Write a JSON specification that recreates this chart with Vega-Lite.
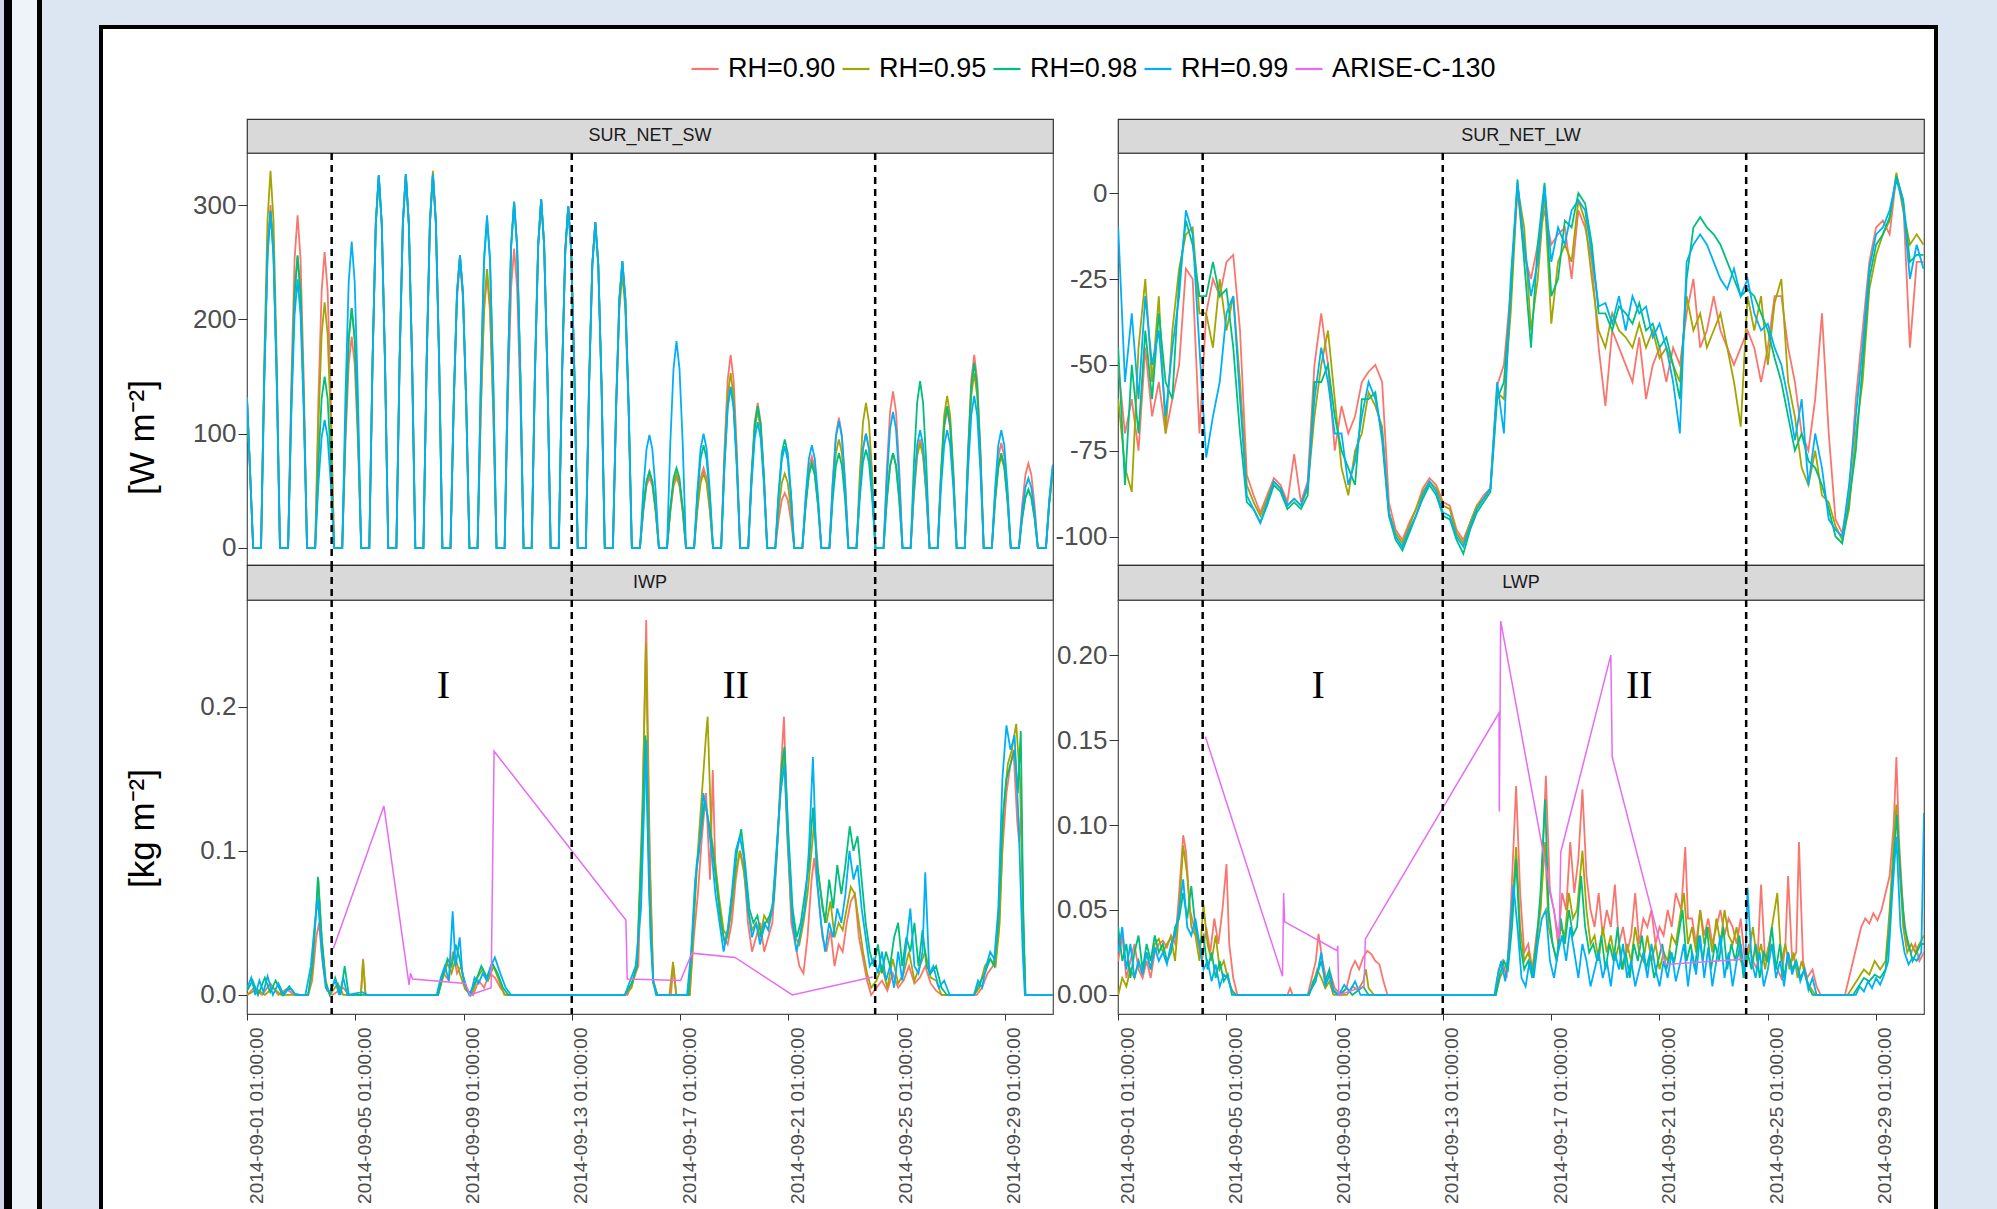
{
"$schema":"https://vega.github.io/schema/vega-lite/v6.json",
"padding":0,
"background":"#ffffff",
"config":{
 "view":{"stroke":null},
 "font":"Liberation Sans",
 "concat":{"spacing":0},
 "axis":{"labelFont":"Liberation Sans","labelColor":"#4d4d4d","tickColor":"#333333","domain":false,"grid":false,"titleFont":"Liberation Sans","titleColor":"#000000","titleFontWeight":"normal","labelFlush":false,"labelOverlap":false,"labelLimit":400},
 "axisY":{"labelFontSize":26,"tickSize":9,"labelPadding":2},
 "axisX":{"labelFontSize":19,"tickSize":6,"labelPadding":7},
 "legend":{"orient":"none","legendX":690,"legendY":54,"direction":"horizontal","symbolType":"stroke","symbolSize":729,"symbolStrokeWidth":2.2,"labelFontSize":27,"labelFont":"Liberation Sans","labelColor":"#000000","labelOffset":8,"columnPadding":2,"padding":0,"labelLimit":400}
},
"datasets":{
"ev":[{"d":3.17},{"d":12.04},{"d":23.25}],
"labI":[{"d":7.3,"v":0.214,"t":"I"},{"d":18.1,"v":0.214,"t":"II"}],
"labL":[{"d":7.44,"v":0.182,"t":"I"},{"d":19.3,"v":0.182,"t":"II"}],
"sw1":[{"d":0.042,"v":130},{"d":0.14,"v":75},{"d":0.27,"v":0},{"d":0.56,"v":0},{"d":0.68,"v":150},{"d":0.8,"v":261},{"d":0.91,"v":300},{"d":1.02,"v":261},{"d":1.14,"v":150},{"d":1.26,"v":0},{"d":1.56,"v":0},{"d":1.68,"v":146},{"d":1.8,"v":253},{"d":1.91,"v":291},{"d":2.02,"v":253},{"d":2.14,"v":146},{"d":2.26,"v":0},{"d":2.56,"v":0},{"d":2.68,"v":130},{"d":2.8,"v":225},{"d":2.91,"v":259},{"d":3.02,"v":225},{"d":3.14,"v":130},{"d":3.26,"v":0},{"d":3.56,"v":0},{"d":3.68,"v":93},{"d":3.8,"v":161},{"d":3.91,"v":185},{"d":4.02,"v":161},{"d":4.14,"v":93},{"d":4.26,"v":0},{"d":4.56,"v":0},{"d":4.68,"v":163},{"d":4.8,"v":283},{"d":4.91,"v":325},{"d":5.02,"v":283},{"d":5.14,"v":163},{"d":5.26,"v":0},{"d":5.56,"v":0},{"d":5.68,"v":164},{"d":5.8,"v":284},{"d":5.91,"v":327},{"d":6.02,"v":284},{"d":6.14,"v":164},{"d":6.26,"v":0},{"d":6.56,"v":0},{"d":6.68,"v":164},{"d":6.8,"v":284},{"d":6.91,"v":327},{"d":7.02,"v":284},{"d":7.14,"v":164},{"d":7.26,"v":0},{"d":7.56,"v":0},{"d":7.68,"v":125},{"d":7.8,"v":218},{"d":7.91,"v":250},{"d":8.02,"v":218},{"d":8.14,"v":125},{"d":8.26,"v":0},{"d":8.56,"v":0},{"d":8.68,"v":119},{"d":8.8,"v":207},{"d":8.91,"v":238},{"d":9.02,"v":207},{"d":9.14,"v":119},{"d":9.26,"v":0},{"d":9.56,"v":0},{"d":9.68,"v":131},{"d":9.8,"v":228},{"d":9.91,"v":262},{"d":10.02,"v":228},{"d":10.14,"v":131},{"d":10.26,"v":0},{"d":10.56,"v":0},{"d":10.68,"v":153},{"d":10.8,"v":265},{"d":10.91,"v":305},{"d":11.02,"v":265},{"d":11.14,"v":153},{"d":11.26,"v":0},{"d":11.56,"v":0},{"d":11.68,"v":150},{"d":11.8,"v":260},{"d":11.91,"v":299},{"d":12.02,"v":260},{"d":12.14,"v":150},{"d":12.26,"v":0},{"d":12.56,"v":0},{"d":12.68,"v":143},{"d":12.8,"v":248},{"d":12.91,"v":285},{"d":13.02,"v":248},{"d":13.14,"v":143},{"d":13.26,"v":0},{"d":13.56,"v":0},{"d":13.68,"v":125},{"d":13.8,"v":218},{"d":13.91,"v":250},{"d":14.02,"v":218},{"d":14.14,"v":125},{"d":14.26,"v":0},{"d":14.56,"v":0},{"d":14.68,"v":31},{"d":14.8,"v":54},{"d":14.91,"v":62},{"d":15.02,"v":54},{"d":15.14,"v":31},{"d":15.26,"v":0},{"d":15.56,"v":0},{"d":15.68,"v":31},{"d":15.8,"v":54},{"d":15.91,"v":62},{"d":16.02,"v":54},{"d":16.14,"v":31},{"d":16.26,"v":0},{"d":16.56,"v":0},{"d":16.68,"v":35},{"d":16.8,"v":61},{"d":16.91,"v":70},{"d":17.02,"v":61},{"d":17.14,"v":35},{"d":17.26,"v":0},{"d":17.56,"v":0},{"d":17.68,"v":85},{"d":17.8,"v":147},{"d":17.91,"v":169},{"d":18.02,"v":147},{"d":18.14,"v":85},{"d":18.26,"v":0},{"d":18.56,"v":0},{"d":18.68,"v":64},{"d":18.8,"v":110},{"d":18.91,"v":127},{"d":19.02,"v":110},{"d":19.14,"v":64},{"d":19.26,"v":0},{"d":19.56,"v":0},{"d":19.68,"v":24},{"d":19.8,"v":42},{"d":19.91,"v":48},{"d":20.02,"v":42},{"d":20.14,"v":24},{"d":20.26,"v":0},{"d":20.56,"v":0},{"d":20.68,"v":40},{"d":20.8,"v":70},{"d":20.91,"v":80},{"d":21.02,"v":70},{"d":21.14,"v":40},{"d":21.26,"v":0},{"d":21.56,"v":0},{"d":21.68,"v":57},{"d":21.8,"v":99},{"d":21.91,"v":114},{"d":22.02,"v":99},{"d":22.14,"v":57},{"d":22.26,"v":0},{"d":22.56,"v":0},{"d":22.68,"v":50},{"d":22.8,"v":87},{"d":22.91,"v":100},{"d":23.02,"v":87},{"d":23.14,"v":50},{"d":23.26,"v":0},{"d":23.56,"v":0},{"d":23.68,"v":69},{"d":23.8,"v":119},{"d":23.91,"v":137},{"d":24.02,"v":119},{"d":24.14,"v":69},{"d":24.26,"v":0},{"d":24.56,"v":0},{"d":24.68,"v":48},{"d":24.8,"v":83},{"d":24.91,"v":95},{"d":25.02,"v":83},{"d":25.14,"v":48},{"d":25.26,"v":0},{"d":25.56,"v":0},{"d":25.68,"v":61},{"d":25.8,"v":105},{"d":25.91,"v":121},{"d":26.02,"v":105},{"d":26.14,"v":61},{"d":26.26,"v":0},{"d":26.56,"v":0},{"d":26.68,"v":85},{"d":26.8,"v":147},{"d":26.91,"v":169},{"d":27.02,"v":147},{"d":27.14,"v":85},{"d":27.26,"v":0},{"d":27.56,"v":0},{"d":27.68,"v":46},{"d":27.8,"v":80},{"d":27.91,"v":92},{"d":28.02,"v":80},{"d":28.14,"v":46},{"d":28.26,"v":0},{"d":28.56,"v":0},{"d":28.68,"v":37},{"d":28.8,"v":64},{"d":28.91,"v":74},{"d":29.02,"v":64},{"d":29.14,"v":37},{"d":29.26,"v":0},{"d":29.56,"v":0},{"d":29.68,"v":40},{"d":29.8,"v":68},{"d":29.82,"v":70}],
"sw2":[{"d":0.042,"v":130},{"d":0.14,"v":75},{"d":0.27,"v":0},{"d":0.56,"v":0},{"d":0.68,"v":165},{"d":0.8,"v":287},{"d":0.91,"v":330},{"d":1.02,"v":287},{"d":1.14,"v":165},{"d":1.26,"v":0},{"d":1.56,"v":0},{"d":1.68,"v":128},{"d":1.8,"v":222},{"d":1.91,"v":255},{"d":2.02,"v":222},{"d":2.14,"v":128},{"d":2.26,"v":0},{"d":2.56,"v":0},{"d":2.68,"v":108},{"d":2.8,"v":187},{"d":2.91,"v":215},{"d":3.02,"v":187},{"d":3.14,"v":108},{"d":3.26,"v":0},{"d":3.56,"v":0},{"d":3.68,"v":105},{"d":3.8,"v":183},{"d":3.91,"v":210},{"d":4.02,"v":183},{"d":4.14,"v":105},{"d":4.26,"v":0},{"d":4.56,"v":0},{"d":4.68,"v":163},{"d":4.8,"v":284},{"d":4.91,"v":326},{"d":5.02,"v":284},{"d":5.14,"v":163},{"d":5.26,"v":0},{"d":5.56,"v":0},{"d":5.68,"v":164},{"d":5.8,"v":284},{"d":5.91,"v":327},{"d":6.02,"v":284},{"d":6.14,"v":164},{"d":6.26,"v":0},{"d":6.56,"v":0},{"d":6.68,"v":165},{"d":6.8,"v":287},{"d":6.91,"v":330},{"d":7.02,"v":287},{"d":7.14,"v":165},{"d":7.26,"v":0},{"d":7.56,"v":0},{"d":7.68,"v":128},{"d":7.8,"v":223},{"d":7.91,"v":256},{"d":8.02,"v":223},{"d":8.14,"v":128},{"d":8.26,"v":0},{"d":8.56,"v":0},{"d":8.68,"v":122},{"d":8.8,"v":212},{"d":8.91,"v":244},{"d":9.02,"v":212},{"d":9.14,"v":122},{"d":9.26,"v":0},{"d":9.56,"v":0},{"d":9.68,"v":152},{"d":9.8,"v":264},{"d":9.91,"v":303},{"d":10.02,"v":264},{"d":10.14,"v":152},{"d":10.26,"v":0},{"d":10.56,"v":0},{"d":10.68,"v":153},{"d":10.8,"v":265},{"d":10.91,"v":305},{"d":11.02,"v":265},{"d":11.14,"v":153},{"d":11.26,"v":0},{"d":11.56,"v":0},{"d":11.68,"v":150},{"d":11.8,"v":260},{"d":11.91,"v":299},{"d":12.02,"v":260},{"d":12.14,"v":150},{"d":12.26,"v":0},{"d":12.56,"v":0},{"d":12.68,"v":143},{"d":12.8,"v":248},{"d":12.91,"v":285},{"d":13.02,"v":248},{"d":13.14,"v":143},{"d":13.26,"v":0},{"d":13.56,"v":0},{"d":13.68,"v":120},{"d":13.8,"v":209},{"d":13.91,"v":240},{"d":14.02,"v":209},{"d":14.14,"v":120},{"d":14.26,"v":0},{"d":14.56,"v":0},{"d":14.68,"v":34},{"d":14.8,"v":58},{"d":14.91,"v":67},{"d":15.02,"v":58},{"d":15.14,"v":34},{"d":15.26,"v":0},{"d":15.56,"v":0},{"d":15.68,"v":33},{"d":15.8,"v":57},{"d":15.91,"v":65},{"d":16.02,"v":57},{"d":16.14,"v":33},{"d":16.26,"v":0},{"d":16.56,"v":0},{"d":16.68,"v":33},{"d":16.8,"v":57},{"d":16.91,"v":65},{"d":17.02,"v":57},{"d":17.14,"v":33},{"d":17.26,"v":0},{"d":17.56,"v":0},{"d":17.68,"v":77},{"d":17.8,"v":133},{"d":17.91,"v":153},{"d":18.02,"v":133},{"d":18.14,"v":77},{"d":18.26,"v":0},{"d":18.56,"v":0},{"d":18.68,"v":60},{"d":18.8,"v":104},{"d":18.91,"v":120},{"d":19.02,"v":104},{"d":19.14,"v":60},{"d":19.26,"v":0},{"d":19.56,"v":0},{"d":19.68,"v":33},{"d":19.8,"v":57},{"d":19.91,"v":65},{"d":20.02,"v":57},{"d":20.14,"v":33},{"d":20.26,"v":0},{"d":20.56,"v":0},{"d":20.68,"v":37},{"d":20.8,"v":64},{"d":20.91,"v":74},{"d":21.02,"v":64},{"d":21.14,"v":37},{"d":21.26,"v":0},{"d":21.56,"v":0},{"d":21.68,"v":48},{"d":21.8,"v":83},{"d":21.91,"v":95},{"d":22.02,"v":83},{"d":22.14,"v":48},{"d":22.26,"v":0},{"d":22.56,"v":0},{"d":22.68,"v":64},{"d":22.8,"v":110},{"d":22.91,"v":127},{"d":23.02,"v":110},{"d":23.14,"v":64},{"d":23.26,"v":0},{"d":23.56,"v":0},{"d":23.68,"v":42},{"d":23.8,"v":72},{"d":23.91,"v":83},{"d":24.02,"v":72},{"d":24.14,"v":42},{"d":24.26,"v":0},{"d":24.56,"v":0},{"d":24.68,"v":46},{"d":24.8,"v":80},{"d":24.91,"v":92},{"d":25.02,"v":80},{"d":25.14,"v":46},{"d":25.26,"v":0},{"d":25.56,"v":0},{"d":25.68,"v":67},{"d":25.8,"v":116},{"d":25.91,"v":133},{"d":26.02,"v":116},{"d":26.14,"v":67},{"d":26.26,"v":0},{"d":26.56,"v":0},{"d":26.68,"v":77},{"d":26.8,"v":133},{"d":26.91,"v":153},{"d":27.02,"v":133},{"d":27.14,"v":77},{"d":27.26,"v":0},{"d":27.56,"v":0},{"d":27.68,"v":40},{"d":27.8,"v":70},{"d":27.91,"v":80},{"d":28.02,"v":70},{"d":28.14,"v":40},{"d":28.26,"v":0},{"d":28.56,"v":0},{"d":28.68,"v":26},{"d":28.8,"v":44},{"d":28.91,"v":51},{"d":29.02,"v":44},{"d":29.14,"v":26},{"d":29.26,"v":0},{"d":29.56,"v":0},{"d":29.68,"v":38},{"d":29.8,"v":64},{"d":29.82,"v":66}],
"sw3":[{"d":0.042,"v":130},{"d":0.14,"v":75},{"d":0.27,"v":0},{"d":0.56,"v":0},{"d":0.68,"v":148},{"d":0.8,"v":257},{"d":0.91,"v":295},{"d":1.02,"v":257},{"d":1.14,"v":148},{"d":1.26,"v":0},{"d":1.56,"v":0},{"d":1.68,"v":128},{"d":1.8,"v":223},{"d":1.91,"v":256},{"d":2.02,"v":223},{"d":2.14,"v":128},{"d":2.26,"v":0},{"d":2.56,"v":0},{"d":2.68,"v":75},{"d":2.8,"v":131},{"d":2.91,"v":150},{"d":3.02,"v":131},{"d":3.14,"v":75},{"d":3.26,"v":0},{"d":3.56,"v":0},{"d":3.68,"v":105},{"d":3.8,"v":183},{"d":3.91,"v":210},{"d":4.02,"v":183},{"d":4.14,"v":105},{"d":4.26,"v":0},{"d":4.56,"v":0},{"d":4.68,"v":163},{"d":4.8,"v":284},{"d":4.91,"v":326},{"d":5.02,"v":284},{"d":5.14,"v":163},{"d":5.26,"v":0},{"d":5.56,"v":0},{"d":5.68,"v":164},{"d":5.8,"v":284},{"d":5.91,"v":327},{"d":6.02,"v":284},{"d":6.14,"v":164},{"d":6.26,"v":0},{"d":6.56,"v":0},{"d":6.68,"v":164},{"d":6.8,"v":284},{"d":6.91,"v":327},{"d":7.02,"v":284},{"d":7.14,"v":164},{"d":7.26,"v":0},{"d":7.56,"v":0},{"d":7.68,"v":128},{"d":7.8,"v":223},{"d":7.91,"v":256},{"d":8.02,"v":223},{"d":8.14,"v":128},{"d":8.26,"v":0},{"d":8.56,"v":0},{"d":8.68,"v":144},{"d":8.8,"v":251},{"d":8.91,"v":288},{"d":9.02,"v":251},{"d":9.14,"v":144},{"d":9.26,"v":0},{"d":9.56,"v":0},{"d":9.68,"v":152},{"d":9.8,"v":264},{"d":9.91,"v":303},{"d":10.02,"v":264},{"d":10.14,"v":152},{"d":10.26,"v":0},{"d":10.56,"v":0},{"d":10.68,"v":153},{"d":10.8,"v":265},{"d":10.91,"v":305},{"d":11.02,"v":265},{"d":11.14,"v":153},{"d":11.26,"v":0},{"d":11.56,"v":0},{"d":11.68,"v":150},{"d":11.8,"v":260},{"d":11.91,"v":299},{"d":12.02,"v":260},{"d":12.14,"v":150},{"d":12.26,"v":0},{"d":12.56,"v":0},{"d":12.68,"v":143},{"d":12.8,"v":248},{"d":12.91,"v":285},{"d":13.02,"v":248},{"d":13.14,"v":143},{"d":13.26,"v":0},{"d":13.56,"v":0},{"d":13.68,"v":126},{"d":13.8,"v":218},{"d":13.91,"v":251},{"d":14.02,"v":218},{"d":14.14,"v":126},{"d":14.26,"v":0},{"d":14.56,"v":0},{"d":14.68,"v":34},{"d":14.8,"v":58},{"d":14.91,"v":67},{"d":15.02,"v":58},{"d":15.14,"v":34},{"d":15.26,"v":0},{"d":15.56,"v":0},{"d":15.68,"v":35},{"d":15.8,"v":61},{"d":15.91,"v":70},{"d":16.02,"v":61},{"d":16.14,"v":35},{"d":16.26,"v":0},{"d":16.56,"v":0},{"d":16.68,"v":45},{"d":16.8,"v":78},{"d":16.91,"v":90},{"d":17.02,"v":78},{"d":17.14,"v":45},{"d":17.26,"v":0},{"d":17.56,"v":0},{"d":17.68,"v":71},{"d":17.8,"v":123},{"d":17.91,"v":141},{"d":18.02,"v":123},{"d":18.14,"v":71},{"d":18.26,"v":0},{"d":18.56,"v":0},{"d":18.68,"v":62},{"d":18.8,"v":108},{"d":18.91,"v":124},{"d":19.02,"v":108},{"d":19.14,"v":62},{"d":19.26,"v":0},{"d":19.56,"v":0},{"d":19.68,"v":48},{"d":19.8,"v":83},{"d":19.91,"v":95},{"d":20.02,"v":83},{"d":20.14,"v":48},{"d":20.26,"v":0},{"d":20.56,"v":0},{"d":20.68,"v":37},{"d":20.8,"v":64},{"d":20.91,"v":74},{"d":21.02,"v":64},{"d":21.14,"v":37},{"d":21.26,"v":0},{"d":21.56,"v":0},{"d":21.68,"v":42},{"d":21.8,"v":72},{"d":21.91,"v":83},{"d":22.02,"v":72},{"d":22.14,"v":42},{"d":22.26,"v":0},{"d":22.56,"v":0},{"d":22.68,"v":43},{"d":22.8,"v":75},{"d":22.91,"v":86},{"d":23.02,"v":75},{"d":23.14,"v":43},{"d":23.26,"v":0},{"d":23.56,"v":0},{"d":23.68,"v":42},{"d":23.8,"v":72},{"d":23.91,"v":83},{"d":24.02,"v":72},{"d":24.14,"v":42},{"d":24.26,"v":0},{"d":24.56,"v":0},{"d":24.68,"v":73},{"d":24.8,"v":127},{"d":24.91,"v":146},{"d":25.02,"v":127},{"d":25.14,"v":73},{"d":25.26,"v":0},{"d":25.56,"v":0},{"d":25.68,"v":62},{"d":25.8,"v":108},{"d":25.91,"v":124},{"d":26.02,"v":108},{"d":26.14,"v":62},{"d":26.26,"v":0},{"d":26.56,"v":0},{"d":26.68,"v":81},{"d":26.8,"v":141},{"d":26.91,"v":162},{"d":27.02,"v":141},{"d":27.14,"v":81},{"d":27.26,"v":0},{"d":27.56,"v":0},{"d":27.68,"v":42},{"d":27.8,"v":72},{"d":27.91,"v":83},{"d":28.02,"v":72},{"d":28.14,"v":42},{"d":28.26,"v":0},{"d":28.56,"v":0},{"d":28.68,"v":26},{"d":28.8,"v":44},{"d":28.91,"v":51},{"d":29.02,"v":44},{"d":29.14,"v":26},{"d":29.26,"v":0},{"d":29.56,"v":0},{"d":29.68,"v":39},{"d":29.8,"v":66},{"d":29.82,"v":68}],
"sw4":[{"d":0.042,"v":132},{"d":0.14,"v":76},{"d":0.27,"v":0},{"d":0.56,"v":0},{"d":0.68,"v":147},{"d":0.8,"v":256},{"d":0.91,"v":294},{"d":1.02,"v":256},{"d":1.14,"v":147},{"d":1.26,"v":0},{"d":1.56,"v":0},{"d":1.68,"v":118},{"d":1.8,"v":204},{"d":1.91,"v":235},{"d":2.02,"v":204},{"d":2.14,"v":118},{"d":2.26,"v":0},{"d":2.56,"v":0},{"d":2.68,"v":56},{"d":2.8,"v":97},{"d":2.91,"v":112},{"d":3.02,"v":97},{"d":3.14,"v":56},{"d":3.26,"v":0},{"d":3.56,"v":0},{"d":3.68,"v":134},{"d":3.8,"v":233},{"d":3.91,"v":268},{"d":4.02,"v":233},{"d":4.14,"v":134},{"d":4.26,"v":0},{"d":4.56,"v":0},{"d":4.68,"v":163},{"d":4.8,"v":284},{"d":4.91,"v":326},{"d":5.02,"v":284},{"d":5.14,"v":163},{"d":5.26,"v":0},{"d":5.56,"v":0},{"d":5.68,"v":164},{"d":5.8,"v":284},{"d":5.91,"v":327},{"d":6.02,"v":284},{"d":6.14,"v":164},{"d":6.26,"v":0},{"d":6.56,"v":0},{"d":6.68,"v":164},{"d":6.8,"v":284},{"d":6.91,"v":327},{"d":7.02,"v":284},{"d":7.14,"v":164},{"d":7.26,"v":0},{"d":7.56,"v":0},{"d":7.68,"v":128},{"d":7.8,"v":223},{"d":7.91,"v":256},{"d":8.02,"v":223},{"d":8.14,"v":128},{"d":8.26,"v":0},{"d":8.56,"v":0},{"d":8.68,"v":146},{"d":8.8,"v":253},{"d":8.91,"v":291},{"d":9.02,"v":253},{"d":9.14,"v":146},{"d":9.26,"v":0},{"d":9.56,"v":0},{"d":9.68,"v":152},{"d":9.8,"v":264},{"d":9.91,"v":303},{"d":10.02,"v":264},{"d":10.14,"v":152},{"d":10.26,"v":0},{"d":10.56,"v":0},{"d":10.68,"v":153},{"d":10.8,"v":265},{"d":10.91,"v":305},{"d":11.02,"v":265},{"d":11.14,"v":153},{"d":11.26,"v":0},{"d":11.56,"v":0},{"d":11.68,"v":150},{"d":11.8,"v":260},{"d":11.91,"v":299},{"d":12.02,"v":260},{"d":12.14,"v":150},{"d":12.26,"v":0},{"d":12.56,"v":0},{"d":12.68,"v":143},{"d":12.8,"v":248},{"d":12.91,"v":285},{"d":13.02,"v":248},{"d":13.14,"v":143},{"d":13.26,"v":0},{"d":13.56,"v":0},{"d":13.68,"v":126},{"d":13.8,"v":218},{"d":13.91,"v":251},{"d":14.02,"v":218},{"d":14.14,"v":126},{"d":14.26,"v":0},{"d":14.56,"v":0},{"d":14.68,"v":50},{"d":14.8,"v":86},{"d":14.91,"v":99},{"d":15.02,"v":86},{"d":15.14,"v":50},{"d":15.26,"v":0},{"d":15.56,"v":0},{"d":15.68,"v":91},{"d":15.8,"v":157},{"d":15.91,"v":181},{"d":16.02,"v":157},{"d":16.14,"v":91},{"d":16.26,"v":0},{"d":16.56,"v":0},{"d":16.68,"v":50},{"d":16.8,"v":87},{"d":16.91,"v":100},{"d":17.02,"v":87},{"d":17.14,"v":50},{"d":17.26,"v":0},{"d":17.56,"v":0},{"d":17.68,"v":71},{"d":17.8,"v":123},{"d":17.91,"v":141},{"d":18.02,"v":123},{"d":18.14,"v":71},{"d":18.26,"v":0},{"d":18.56,"v":0},{"d":18.68,"v":55},{"d":18.8,"v":96},{"d":18.91,"v":110},{"d":19.02,"v":96},{"d":19.14,"v":55},{"d":19.26,"v":0},{"d":19.56,"v":0},{"d":19.68,"v":45},{"d":19.8,"v":77},{"d":19.91,"v":89},{"d":20.02,"v":77},{"d":20.14,"v":45},{"d":20.26,"v":0},{"d":20.56,"v":0},{"d":20.68,"v":45},{"d":20.8,"v":78},{"d":20.91,"v":90},{"d":21.02,"v":78},{"d":21.14,"v":45},{"d":21.26,"v":0},{"d":21.56,"v":0},{"d":21.68,"v":56},{"d":21.8,"v":97},{"d":21.91,"v":111},{"d":22.02,"v":97},{"d":22.14,"v":56},{"d":22.26,"v":0},{"d":22.56,"v":0},{"d":22.68,"v":50},{"d":22.8,"v":87},{"d":22.91,"v":100},{"d":23.02,"v":87},{"d":23.14,"v":50},{"d":23.26,"v":0},{"d":23.56,"v":0},{"d":23.68,"v":60},{"d":23.8,"v":104},{"d":23.91,"v":119},{"d":24.02,"v":104},{"d":24.14,"v":60},{"d":24.26,"v":0},{"d":24.56,"v":0},{"d":24.68,"v":52},{"d":24.8,"v":90},{"d":24.91,"v":103},{"d":25.02,"v":90},{"d":25.14,"v":52},{"d":25.26,"v":0},{"d":25.56,"v":0},{"d":25.68,"v":52},{"d":25.8,"v":90},{"d":25.91,"v":103},{"d":26.02,"v":90},{"d":26.14,"v":52},{"d":26.26,"v":0},{"d":26.56,"v":0},{"d":26.68,"v":67},{"d":26.8,"v":116},{"d":26.91,"v":133},{"d":27.02,"v":116},{"d":27.14,"v":67},{"d":27.26,"v":0},{"d":27.56,"v":0},{"d":27.68,"v":52},{"d":27.8,"v":90},{"d":27.91,"v":103},{"d":28.02,"v":90},{"d":28.14,"v":52},{"d":28.26,"v":0},{"d":28.56,"v":0},{"d":28.68,"v":31},{"d":28.8,"v":53},{"d":28.91,"v":61},{"d":29.02,"v":53},{"d":29.14,"v":31},{"d":29.26,"v":0},{"d":29.56,"v":0},{"d":29.68,"v":42},{"d":29.8,"v":71},{"d":29.82,"v":73}],
"lw1":[{"d":0.05,"v":-50},{"d":0.3,"v":-70},{"d":0.55,"v":-60},{"d":0.8,"v":-75},{"d":1.05,"v":-45},{"d":1.3,"v":-65},{"d":1.55,"v":-55},{"d":1.8,"v":-70},{"d":2.05,"v":-60},{"d":2.3,"v":-50},{"d":2.55,"v":-22},{"d":2.8,"v":-25},{"d":3.05,"v":-70},{"d":3.3,"v":-35},{"d":3.55,"v":-25},{"d":3.8,"v":-30},{"d":4.05,"v":-20},{"d":4.3,"v":-18},{"d":4.55,"v":-40},{"d":4.8,"v":-82},{"d":5.05,"v":-88},{"d":5.3,"v":-93},{"d":5.55,"v":-88},{"d":5.8,"v":-83},{"d":6.05,"v":-85},{"d":6.3,"v":-90},{"d":6.55,"v":-76},{"d":6.8,"v":-90},{"d":7.05,"v":-84},{"d":7.3,"v":-50},{"d":7.55,"v":-35},{"d":7.8,"v":-50},{"d":8.05,"v":-75},{"d":8.3,"v":-62},{"d":8.55,"v":-70},{"d":8.8,"v":-65},{"d":9.05,"v":-55},{"d":9.3,"v":-52},{"d":9.55,"v":-50},{"d":9.8,"v":-55},{"d":10.05,"v":-90},{"d":10.3,"v":-98},{"d":10.55,"v":-101},{"d":10.8,"v":-96},{"d":11.05,"v":-92},{"d":11.3,"v":-86},{"d":11.55,"v":-83},{"d":11.8,"v":-85},{"d":12.05,"v":-90},{"d":12.3,"v":-91},{"d":12.55,"v":-98},{"d":12.8,"v":-101},{"d":13.05,"v":-96},{"d":13.3,"v":-91},{"d":13.55,"v":-88},{"d":13.8,"v":-86},{"d":14.05,"v":-56},{"d":14.3,"v":-50},{"d":14.55,"v":-28},{"d":14.8,"v":1},{"d":15.05,"v":-18},{"d":15.3,"v":-25},{"d":15.55,"v":-15},{"d":15.8,"v":-5},{"d":16.05,"v":-15},{"d":16.3,"v":-12},{"d":16.55,"v":-10},{"d":16.8,"v":-25},{"d":17.05,"v":-5},{"d":17.3,"v":-10},{"d":17.55,"v":-20},{"d":17.8,"v":-45},{"d":18.05,"v":-62},{"d":18.3,"v":-40},{"d":18.55,"v":-45},{"d":18.8,"v":-50},{"d":19.05,"v":-55},{"d":19.3,"v":-42},{"d":19.55,"v":-60},{"d":19.8,"v":-50},{"d":20.05,"v":-45},{"d":20.3,"v":-55},{"d":20.55,"v":-45},{"d":20.8,"v":-50},{"d":21.05,"v":-35},{"d":21.3,"v":-25},{"d":21.55,"v":-45},{"d":21.8,"v":-40},{"d":22.05,"v":-30},{"d":22.3,"v":-40},{"d":22.55,"v":-45},{"d":22.8,"v":-50},{"d":23.05,"v":-45},{"d":23.3,"v":-40},{"d":23.55,"v":-45},{"d":23.8,"v":-55},{"d":24.05,"v":-45},{"d":24.3,"v":-30},{"d":24.55,"v":-30},{"d":24.8,"v":-45},{"d":25.05,"v":-55},{"d":25.3,"v":-70},{"d":25.55,"v":-75},{"d":25.8,"v":-60},{"d":26.05,"v":-35},{"d":26.3,"v":-70},{"d":26.55,"v":-95},{"d":26.8,"v":-99},{"d":27.05,"v":-88},{"d":27.3,"v":-60},{"d":27.55,"v":-40},{"d":27.8,"v":-20},{"d":28.05,"v":-10},{"d":28.3,"v":-8},{"d":28.55,"v":-12},{"d":28.8,"v":5},{"d":29.05,"v":-2},{"d":29.3,"v":-45},{"d":29.55,"v":-20},{"d":29.8,"v":-20}],
"lw2":[{"d":0.05,"v":-60},{"d":0.3,"v":-80},{"d":0.55,"v":-87},{"d":0.8,"v":-45},{"d":1.05,"v":-25},{"d":1.3,"v":-55},{"d":1.55,"v":-30},{"d":1.8,"v":-70},{"d":2.05,"v":-40},{"d":2.3,"v":-22},{"d":2.55,"v":-12},{"d":2.8,"v":-10},{"d":3.05,"v":-35},{"d":3.3,"v":-35},{"d":3.55,"v":-45},{"d":3.8,"v":-25},{"d":4.05,"v":-40},{"d":4.3,"v":-30},{"d":4.55,"v":-55},{"d":4.8,"v":-85},{"d":5.05,"v":-90},{"d":5.3,"v":-94},{"d":5.55,"v":-89},{"d":5.8,"v":-84},{"d":6.05,"v":-86},{"d":6.3,"v":-91},{"d":6.55,"v":-89},{"d":6.8,"v":-91},{"d":7.05,"v":-86},{"d":7.3,"v":-65},{"d":7.55,"v":-50},{"d":7.8,"v":-40},{"d":8.05,"v":-60},{"d":8.3,"v":-80},{"d":8.55,"v":-88},{"d":8.8,"v":-75},{"d":9.05,"v":-70},{"d":9.3,"v":-58},{"d":9.55,"v":-62},{"d":9.8,"v":-68},{"d":10.05,"v":-93},{"d":10.3,"v":-99},{"d":10.55,"v":-102},{"d":10.8,"v":-97},{"d":11.05,"v":-92},{"d":11.3,"v":-87},{"d":11.55,"v":-84},{"d":11.8,"v":-86},{"d":12.05,"v":-91},{"d":12.3,"v":-92},{"d":12.55,"v":-99},{"d":12.8,"v":-102},{"d":13.05,"v":-96},{"d":13.3,"v":-91},{"d":13.55,"v":-89},{"d":13.8,"v":-86},{"d":14.05,"v":-58},{"d":14.3,"v":-60},{"d":14.55,"v":-35},{"d":14.8,"v":2},{"d":15.05,"v":-10},{"d":15.3,"v":-40},{"d":15.55,"v":-25},{"d":15.8,"v":0},{"d":16.05,"v":-38},{"d":16.3,"v":-20},{"d":16.55,"v":-15},{"d":16.8,"v":-20},{"d":17.05,"v":-2},{"d":17.3,"v":-8},{"d":17.55,"v":-25},{"d":17.8,"v":-40},{"d":18.05,"v":-45},{"d":18.3,"v":-35},{"d":18.55,"v":-40},{"d":18.8,"v":-42},{"d":19.05,"v":-45},{"d":19.3,"v":-38},{"d":19.55,"v":-45},{"d":19.8,"v":-40},{"d":20.05,"v":-48},{"d":20.3,"v":-45},{"d":20.55,"v":-50},{"d":20.8,"v":-55},{"d":21.05,"v":-30},{"d":21.3,"v":-40},{"d":21.55,"v":-35},{"d":21.8,"v":-45},{"d":22.05,"v":-40},{"d":22.3,"v":-35},{"d":22.55,"v":-45},{"d":22.8,"v":-55},{"d":23.05,"v":-68},{"d":23.3,"v":-30},{"d":23.55,"v":-40},{"d":23.8,"v":-30},{"d":24.05,"v":-50},{"d":24.3,"v":-32},{"d":24.55,"v":-25},{"d":24.8,"v":-55},{"d":25.05,"v":-65},{"d":25.3,"v":-80},{"d":25.55,"v":-85},{"d":25.8,"v":-75},{"d":26.05,"v":-88},{"d":26.3,"v":-90},{"d":26.55,"v":-97},{"d":26.8,"v":-101},{"d":27.05,"v":-92},{"d":27.3,"v":-70},{"d":27.55,"v":-55},{"d":27.8,"v":-28},{"d":28.05,"v":-18},{"d":28.3,"v":-12},{"d":28.55,"v":-8},{"d":28.8,"v":6},{"d":29.05,"v":-5},{"d":29.3,"v":-15},{"d":29.55,"v":-12},{"d":29.8,"v":-15}],
"lw3":[{"d":0.05,"v":-45},{"d":0.3,"v":-85},{"d":0.55,"v":-50},{"d":0.8,"v":-70},{"d":1.05,"v":-40},{"d":1.3,"v":-60},{"d":1.55,"v":-35},{"d":1.8,"v":-55},{"d":2.05,"v":-60},{"d":2.3,"v":-25},{"d":2.55,"v":-8},{"d":2.8,"v":-15},{"d":3.05,"v":-30},{"d":3.3,"v":-30},{"d":3.55,"v":-20},{"d":3.8,"v":-30},{"d":4.05,"v":-28},{"d":4.3,"v":-45},{"d":4.55,"v":-70},{"d":4.8,"v":-90},{"d":5.05,"v":-92},{"d":5.3,"v":-96},{"d":5.55,"v":-91},{"d":5.8,"v":-85},{"d":6.05,"v":-87},{"d":6.3,"v":-92},{"d":6.55,"v":-90},{"d":6.8,"v":-92},{"d":7.05,"v":-88},{"d":7.3,"v":-55},{"d":7.55,"v":-55},{"d":7.8,"v":-50},{"d":8.05,"v":-65},{"d":8.3,"v":-75},{"d":8.55,"v":-80},{"d":8.8,"v":-85},{"d":9.05,"v":-60},{"d":9.3,"v":-60},{"d":9.55,"v":-58},{"d":9.8,"v":-72},{"d":10.05,"v":-94},{"d":10.3,"v":-101},{"d":10.55,"v":-104},{"d":10.8,"v":-99},{"d":11.05,"v":-94},{"d":11.3,"v":-89},{"d":11.55,"v":-85},{"d":11.8,"v":-88},{"d":12.05,"v":-94},{"d":12.3,"v":-95},{"d":12.55,"v":-101},{"d":12.8,"v":-105},{"d":13.05,"v":-98},{"d":13.3,"v":-93},{"d":13.55,"v":-90},{"d":13.8,"v":-87},{"d":14.05,"v":-60},{"d":14.3,"v":-55},{"d":14.55,"v":-30},{"d":14.8,"v":4},{"d":15.05,"v":-20},{"d":15.3,"v":-45},{"d":15.55,"v":-15},{"d":15.8,"v":3},{"d":16.05,"v":-30},{"d":16.3,"v":-25},{"d":16.55,"v":-8},{"d":16.8,"v":-10},{"d":17.05,"v":0},{"d":17.3,"v":-3},{"d":17.55,"v":-15},{"d":17.8,"v":-35},{"d":18.05,"v":-35},{"d":18.3,"v":-40},{"d":18.55,"v":-33},{"d":18.8,"v":-35},{"d":19.05,"v":-38},{"d":19.3,"v":-32},{"d":19.55,"v":-40},{"d":19.8,"v":-38},{"d":20.05,"v":-45},{"d":20.3,"v":-42},{"d":20.55,"v":-50},{"d":20.8,"v":-60},{"d":21.05,"v":-25},{"d":21.3,"v":-10},{"d":21.55,"v":-7},{"d":21.8,"v":-10},{"d":22.05,"v":-12},{"d":22.3,"v":-15},{"d":22.55,"v":-20},{"d":22.8,"v":-25},{"d":23.05,"v":-30},{"d":23.3,"v":-28},{"d":23.55,"v":-30},{"d":23.8,"v":-35},{"d":24.05,"v":-40},{"d":24.3,"v":-48},{"d":24.55,"v":-55},{"d":24.8,"v":-65},{"d":25.05,"v":-75},{"d":25.3,"v":-70},{"d":25.55,"v":-78},{"d":25.8,"v":-80},{"d":26.05,"v":-85},{"d":26.3,"v":-92},{"d":26.55,"v":-100},{"d":26.8,"v":-102},{"d":27.05,"v":-90},{"d":27.3,"v":-75},{"d":27.55,"v":-50},{"d":27.8,"v":-25},{"d":28.05,"v":-15},{"d":28.3,"v":-12},{"d":28.55,"v":-7},{"d":28.8,"v":5},{"d":29.05,"v":-2},{"d":29.3,"v":-20},{"d":29.55,"v":-18},{"d":29.8,"v":-18}],
"lw4":[{"d":0.05,"v":-10},{"d":0.3,"v":-55},{"d":0.55,"v":-35},{"d":0.8,"v":-60},{"d":1.05,"v":-30},{"d":1.3,"v":-50},{"d":1.55,"v":-40},{"d":1.8,"v":-65},{"d":2.05,"v":-45},{"d":2.3,"v":-30},{"d":2.55,"v":-5},{"d":2.8,"v":-12},{"d":3.05,"v":-45},{"d":3.3,"v":-77},{"d":3.55,"v":-65},{"d":3.8,"v":-55},{"d":4.05,"v":-35},{"d":4.3,"v":-30},{"d":4.55,"v":-60},{"d":4.8,"v":-88},{"d":5.05,"v":-92},{"d":5.3,"v":-96},{"d":5.55,"v":-90},{"d":5.8,"v":-84},{"d":6.05,"v":-86},{"d":6.3,"v":-91},{"d":6.55,"v":-89},{"d":6.8,"v":-91},{"d":7.05,"v":-85},{"d":7.3,"v":-60},{"d":7.55,"v":-45},{"d":7.8,"v":-55},{"d":8.05,"v":-70},{"d":8.3,"v":-70},{"d":8.55,"v":-85},{"d":8.8,"v":-78},{"d":9.05,"v":-65},{"d":9.3,"v":-55},{"d":9.55,"v":-60},{"d":9.8,"v":-70},{"d":10.05,"v":-93},{"d":10.3,"v":-100},{"d":10.55,"v":-103},{"d":10.8,"v":-98},{"d":11.05,"v":-94},{"d":11.3,"v":-88},{"d":11.55,"v":-84},{"d":11.8,"v":-87},{"d":12.05,"v":-93},{"d":12.3,"v":-94},{"d":12.55,"v":-100},{"d":12.8,"v":-103},{"d":13.05,"v":-97},{"d":13.3,"v":-92},{"d":13.55,"v":-89},{"d":13.8,"v":-86},{"d":14.05,"v":-55},{"d":14.3,"v":-70},{"d":14.55,"v":-25},{"d":14.8,"v":3},{"d":15.05,"v":-15},{"d":15.3,"v":-30},{"d":15.55,"v":-20},{"d":15.8,"v":2},{"d":16.05,"v":-20},{"d":16.3,"v":-10},{"d":16.55,"v":-15},{"d":16.8,"v":-5},{"d":17.05,"v":-2},{"d":17.3,"v":-5},{"d":17.55,"v":-18},{"d":17.8,"v":-33},{"d":18.05,"v":-32},{"d":18.3,"v":-38},{"d":18.55,"v":-30},{"d":18.8,"v":-40},{"d":19.05,"v":-30},{"d":19.3,"v":-35},{"d":19.55,"v":-33},{"d":19.8,"v":-42},{"d":20.05,"v":-38},{"d":20.3,"v":-45},{"d":20.55,"v":-55},{"d":20.8,"v":-70},{"d":21.05,"v":-20},{"d":21.3,"v":-15},{"d":21.55,"v":-12},{"d":21.8,"v":-15},{"d":22.05,"v":-20},{"d":22.3,"v":-25},{"d":22.55,"v":-28},{"d":22.8,"v":-22},{"d":23.05,"v":-30},{"d":23.3,"v":-25},{"d":23.55,"v":-35},{"d":23.8,"v":-40},{"d":24.05,"v":-38},{"d":24.3,"v":-45},{"d":24.55,"v":-50},{"d":24.8,"v":-60},{"d":25.05,"v":-72},{"d":25.3,"v":-60},{"d":25.55,"v":-85},{"d":25.8,"v":-70},{"d":26.05,"v":-80},{"d":26.3,"v":-95},{"d":26.55,"v":-98},{"d":26.8,"v":-100},{"d":27.05,"v":-85},{"d":27.3,"v":-65},{"d":27.55,"v":-45},{"d":27.8,"v":-22},{"d":28.05,"v":-12},{"d":28.3,"v":-10},{"d":28.55,"v":-5},{"d":28.8,"v":4},{"d":29.05,"v":-3},{"d":29.3,"v":-25},{"d":29.55,"v":-15},{"d":29.8,"v":-22}],
"iw1":[{"d":0.05,"v":0},{"d":0.3,"v":0.005},{"d":0.6,"v":0},{"d":0.9,"v":0.008},{"d":1.2,"v":0},{"d":1.5,"v":0.004},{"d":1.8,"v":0},{"d":2.3,"v":0},{"d":2.45,"v":0.01},{"d":2.6,"v":0.04},{"d":2.7,"v":0.05},{"d":2.85,"v":0.02},{"d":3.0,"v":0.003},{"d":3.2,"v":0},{"d":3.6,"v":0.005},{"d":3.8,"v":0},{"d":4.25,"v":0},{"d":4.33,"v":0.025},{"d":4.42,"v":0},{"d":7.1,"v":0},{"d":7.3,"v":0.015},{"d":7.5,"v":0.01},{"d":7.65,"v":0.03},{"d":7.8,"v":0.015},{"d":7.95,"v":0.02},{"d":8.15,"v":0.003},{"d":8.4,"v":0},{"d":8.6,"v":0.01},{"d":8.8,"v":0.005},{"d":9.0,"v":0.015},{"d":9.2,"v":0.012},{"d":9.4,"v":0.005},{"d":9.6,"v":0},{"d":14.1,"v":0},{"d":14.3,"v":0.01},{"d":14.5,"v":0.02},{"d":14.65,"v":0.12},{"d":14.79,"v":0.26},{"d":14.92,"v":0.1},{"d":15.05,"v":0.01},{"d":15.2,"v":0},{"d":15.7,"v":0},{"d":15.8,"v":0.02},{"d":15.9,"v":0},{"d":16.4,"v":0},{"d":16.55,"v":0.04},{"d":16.7,"v":0.07},{"d":16.85,"v":0.11},{"d":17.0,"v":0.14},{"d":17.15,"v":0.08},{"d":17.25,"v":0.156},{"d":17.35,"v":0.085},{"d":17.5,"v":0.06},{"d":17.65,"v":0.04},{"d":17.8,"v":0.035},{"d":17.95,"v":0.05},{"d":18.1,"v":0.08},{"d":18.25,"v":0.1},{"d":18.4,"v":0.09},{"d":18.55,"v":0.05},{"d":18.7,"v":0.03},{"d":18.85,"v":0.04},{"d":19.0,"v":0.05},{"d":19.15,"v":0.03},{"d":19.3,"v":0.04},{"d":19.45,"v":0.05},{"d":19.6,"v":0.09},{"d":19.75,"v":0.15},{"d":19.88,"v":0.193},{"d":20.0,"v":0.12},{"d":20.15,"v":0.05},{"d":20.3,"v":0.035},{"d":20.45,"v":0.02},{"d":20.6,"v":0.015},{"d":20.75,"v":0.04},{"d":20.9,"v":0.08},{"d":21.0,"v":0.095},{"d":21.15,"v":0.07},{"d":21.3,"v":0.04},{"d":21.45,"v":0.03},{"d":21.6,"v":0.045},{"d":21.75,"v":0.02},{"d":21.9,"v":0.035},{"d":22.05,"v":0.03},{"d":22.2,"v":0.05},{"d":22.35,"v":0.065},{"d":22.5,"v":0.07},{"d":22.65,"v":0.04},{"d":22.8,"v":0.025},{"d":22.95,"v":0.01},{"d":23.1,"v":0},{"d":23.3,"v":0.005},{"d":23.5,"v":0.01},{"d":23.7,"v":0.003},{"d":23.9,"v":0.015},{"d":24.1,"v":0.005},{"d":24.3,"v":0.01},{"d":24.5,"v":0.02},{"d":24.7,"v":0.008},{"d":24.9,"v":0.012},{"d":25.1,"v":0.02},{"d":25.3,"v":0.008},{"d":25.5,"v":0.003},{"d":25.7,"v":0},{"d":27.0,"v":0},{"d":27.2,"v":0.005},{"d":27.4,"v":0.015},{"d":27.6,"v":0.02},{"d":27.8,"v":0.04},{"d":27.95,"v":0.1},{"d":28.1,"v":0.14},{"d":28.25,"v":0.16},{"d":28.36,"v":0.17},{"d":28.5,"v":0.12},{"d":28.57,"v":0.106},{"d":28.65,"v":0.13},{"d":28.72,"v":0.05},{"d":28.8,"v":0},{"d":29.82,"v":0}],
"iw2":[{"d":0.05,"v":0},{"d":0.4,"v":0.004},{"d":0.7,"v":0},{"d":1.0,"v":0.005},{"d":1.3,"v":0},{"d":2.3,"v":0},{"d":2.45,"v":0.015},{"d":2.6,"v":0.06},{"d":2.68,"v":0.08},{"d":2.8,"v":0.04},{"d":2.95,"v":0.01},{"d":3.1,"v":0},{"d":3.4,"v":0.008},{"d":3.6,"v":0},{"d":4.25,"v":0},{"d":4.33,"v":0.024},{"d":4.42,"v":0},{"d":7.1,"v":0},{"d":7.25,"v":0.01},{"d":7.45,"v":0.022},{"d":7.6,"v":0.015},{"d":7.75,"v":0.025},{"d":7.9,"v":0.015},{"d":8.1,"v":0.004},{"d":8.35,"v":0},{"d":8.55,"v":0.012},{"d":8.75,"v":0.018},{"d":8.95,"v":0.01},{"d":9.15,"v":0.02},{"d":9.35,"v":0.01},{"d":9.55,"v":0},{"d":14.0,"v":0},{"d":14.25,"v":0.005},{"d":14.45,"v":0.02},{"d":14.65,"v":0.13},{"d":14.78,"v":0.244},{"d":14.92,"v":0.09},{"d":15.05,"v":0.01},{"d":15.2,"v":0},{"d":15.65,"v":0},{"d":15.78,"v":0.023},{"d":15.9,"v":0},{"d":16.4,"v":0},{"d":16.55,"v":0.05},{"d":16.7,"v":0.1},{"d":16.85,"v":0.14},{"d":17.0,"v":0.18},{"d":17.06,"v":0.193},{"d":17.2,"v":0.11},{"d":17.35,"v":0.09},{"d":17.5,"v":0.065},{"d":17.65,"v":0.045},{"d":17.8,"v":0.04},{"d":17.95,"v":0.06},{"d":18.1,"v":0.085},{"d":18.25,"v":0.1},{"d":18.4,"v":0.085},{"d":18.55,"v":0.06},{"d":18.7,"v":0.045},{"d":18.85,"v":0.05},{"d":19.0,"v":0.04},{"d":19.15,"v":0.055},{"d":19.3,"v":0.05},{"d":19.45,"v":0.06},{"d":19.6,"v":0.095},{"d":19.75,"v":0.14},{"d":19.88,"v":0.17},{"d":20.0,"v":0.11},{"d":20.15,"v":0.06},{"d":20.3,"v":0.04},{"d":20.45,"v":0.035},{"d":20.6,"v":0.05},{"d":20.75,"v":0.07},{"d":20.9,"v":0.1},{"d":21.0,"v":0.12},{"d":21.15,"v":0.085},{"d":21.3,"v":0.06},{"d":21.45,"v":0.05},{"d":21.6,"v":0.065},{"d":21.75,"v":0.04},{"d":21.9,"v":0.05},{"d":22.05,"v":0.045},{"d":22.2,"v":0.06},{"d":22.35,"v":0.075},{"d":22.5,"v":0.07},{"d":22.65,"v":0.05},{"d":22.8,"v":0.03},{"d":22.95,"v":0.015},{"d":23.1,"v":0.005},{"d":23.3,"v":0.01},{"d":23.5,"v":0.02},{"d":23.7,"v":0.005},{"d":23.9,"v":0.025},{"d":24.1,"v":0.008},{"d":24.3,"v":0.015},{"d":24.5,"v":0.03},{"d":24.7,"v":0.01},{"d":24.9,"v":0.02},{"d":25.1,"v":0.03},{"d":25.3,"v":0.012},{"d":25.5,"v":0.01},{"d":25.7,"v":0},{"d":26.9,"v":0},{"d":27.1,"v":0.005},{"d":27.3,"v":0.02},{"d":27.5,"v":0.025},{"d":27.7,"v":0.02},{"d":27.85,"v":0.05},{"d":28.0,"v":0.13},{"d":28.15,"v":0.16},{"d":28.3,"v":0.17},{"d":28.46,"v":0.188},{"d":28.6,"v":0.15},{"d":28.72,"v":0.05},{"d":28.8,"v":0},{"d":29.82,"v":0}],
"iw3":[{"d":0.05,"v":0.003},{"d":0.25,"v":0.01},{"d":0.45,"v":0},{"d":0.7,"v":0.012},{"d":0.9,"v":0.002},{"d":1.1,"v":0.01},{"d":1.35,"v":0},{"d":1.6,"v":0.006},{"d":1.85,"v":0},{"d":2.3,"v":0},{"d":2.45,"v":0.02},{"d":2.6,"v":0.06},{"d":2.66,"v":0.082},{"d":2.8,"v":0.04},{"d":2.95,"v":0.008},{"d":3.1,"v":0},{"d":3.3,"v":0.012},{"d":3.5,"v":0},{"d":3.65,"v":0.02},{"d":3.8,"v":0},{"d":7.1,"v":0},{"d":7.3,"v":0.015},{"d":7.45,"v":0.025},{"d":7.6,"v":0.02},{"d":7.75,"v":0.035},{"d":7.9,"v":0.025},{"d":8.05,"v":0.01},{"d":8.25,"v":0},{"d":8.5,"v":0.01},{"d":8.7,"v":0.02},{"d":8.9,"v":0.012},{"d":9.1,"v":0.022},{"d":9.3,"v":0.015},{"d":9.5,"v":0.005},{"d":9.7,"v":0},{"d":14.0,"v":0},{"d":14.25,"v":0.008},{"d":14.45,"v":0.02},{"d":14.62,"v":0.1},{"d":14.76,"v":0.18},{"d":14.9,"v":0.07},{"d":15.05,"v":0.008},{"d":15.2,"v":0},{"d":16.35,"v":0},{"d":16.5,"v":0.04},{"d":16.65,"v":0.09},{"d":16.8,"v":0.11},{"d":16.95,"v":0.135},{"d":17.1,"v":0.12},{"d":17.25,"v":0.1},{"d":17.4,"v":0.075},{"d":17.55,"v":0.05},{"d":17.7,"v":0.035},{"d":17.85,"v":0.05},{"d":18.0,"v":0.075},{"d":18.15,"v":0.1},{"d":18.3,"v":0.115},{"d":18.45,"v":0.09},{"d":18.6,"v":0.06},{"d":18.75,"v":0.05},{"d":18.9,"v":0.055},{"d":19.05,"v":0.04},{"d":19.2,"v":0.05},{"d":19.35,"v":0.055},{"d":19.5,"v":0.065},{"d":19.65,"v":0.11},{"d":19.8,"v":0.16},{"d":19.9,"v":0.172},{"d":20.05,"v":0.11},{"d":20.2,"v":0.06},{"d":20.35,"v":0.04},{"d":20.5,"v":0.05},{"d":20.65,"v":0.07},{"d":20.8,"v":0.09},{"d":20.95,"v":0.13},{"d":21.1,"v":0.09},{"d":21.25,"v":0.07},{"d":21.4,"v":0.05},{"d":21.55,"v":0.08},{"d":21.7,"v":0.06},{"d":21.85,"v":0.09},{"d":22.0,"v":0.07},{"d":22.15,"v":0.09},{"d":22.31,"v":0.117},{"d":22.45,"v":0.1},{"d":22.6,"v":0.11},{"d":22.75,"v":0.08},{"d":22.9,"v":0.05},{"d":23.05,"v":0.03},{"d":23.2,"v":0.02},{"d":23.35,"v":0.035},{"d":23.5,"v":0.015},{"d":23.65,"v":0.03},{"d":23.8,"v":0.02},{"d":23.95,"v":0.04},{"d":24.1,"v":0.05},{"d":24.25,"v":0.02},{"d":24.4,"v":0.04},{"d":24.55,"v":0.03},{"d":24.7,"v":0.05},{"d":24.85,"v":0.02},{"d":25.0,"v":0.045},{"d":25.15,"v":0.02},{"d":25.3,"v":0.015},{"d":25.5,"v":0.02},{"d":25.7,"v":0.005},{"d":25.9,"v":0},{"d":26.9,"v":0},{"d":27.1,"v":0.008},{"d":27.3,"v":0.015},{"d":27.5,"v":0.025},{"d":27.65,"v":0.02},{"d":27.8,"v":0.05},{"d":27.95,"v":0.12},{"d":28.1,"v":0.15},{"d":28.25,"v":0.16},{"d":28.4,"v":0.17},{"d":28.52,"v":0.14},{"d":28.63,"v":0.183},{"d":28.72,"v":0.06},{"d":28.8,"v":0},{"d":29.82,"v":0}],
"iw4":[{"d":0.05,"v":0.005},{"d":0.2,"v":0.012},{"d":0.35,"v":0},{"d":0.5,"v":0.01},{"d":0.65,"v":0.002},{"d":0.8,"v":0.013},{"d":1.0,"v":0},{"d":1.2,"v":0.008},{"d":1.4,"v":0},{"d":1.6,"v":0.005},{"d":1.8,"v":0.001},{"d":2.0,"v":0},{"d":2.2,"v":0},{"d":2.4,"v":0.02},{"d":2.55,"v":0.05},{"d":2.66,"v":0.067},{"d":2.8,"v":0.03},{"d":2.95,"v":0.005},{"d":3.1,"v":0.002},{"d":3.3,"v":0.01},{"d":3.45,"v":0},{"d":3.6,"v":0.012},{"d":3.75,"v":0},{"d":4.3,"v":0.002},{"d":4.5,"v":0},{"d":7.05,"v":0},{"d":7.2,"v":0.012},{"d":7.35,"v":0.02},{"d":7.5,"v":0.01},{"d":7.64,"v":0.058},{"d":7.75,"v":0.02},{"d":7.9,"v":0.04},{"d":8.0,"v":0.015},{"d":8.15,"v":0.005},{"d":8.3,"v":0},{"d":8.45,"v":0.012},{"d":8.6,"v":0.008},{"d":8.75,"v":0.015},{"d":8.9,"v":0.01},{"d":9.05,"v":0.02},{"d":9.2,"v":0.026},{"d":9.4,"v":0.015},{"d":9.6,"v":0.005},{"d":9.8,"v":0},{"d":14.0,"v":0},{"d":14.2,"v":0.01},{"d":14.4,"v":0.02},{"d":14.6,"v":0.06},{"d":14.79,"v":0.177},{"d":14.95,"v":0.04},{"d":15.05,"v":0.01},{"d":15.15,"v":0},{"d":16.3,"v":0},{"d":16.45,"v":0.03},{"d":16.6,"v":0.08},{"d":16.75,"v":0.1},{"d":16.9,"v":0.14},{"d":17.05,"v":0.125},{"d":17.2,"v":0.1},{"d":17.35,"v":0.07},{"d":17.5,"v":0.05},{"d":17.65,"v":0.03},{"d":17.8,"v":0.045},{"d":17.95,"v":0.07},{"d":18.1,"v":0.1},{"d":18.25,"v":0.11},{"d":18.4,"v":0.095},{"d":18.55,"v":0.06},{"d":18.7,"v":0.04},{"d":18.85,"v":0.05},{"d":19.0,"v":0.035},{"d":19.15,"v":0.05},{"d":19.3,"v":0.045},{"d":19.45,"v":0.06},{"d":19.6,"v":0.1},{"d":19.75,"v":0.14},{"d":19.9,"v":0.16},{"d":20.05,"v":0.1},{"d":20.2,"v":0.05},{"d":20.35,"v":0.03},{"d":20.5,"v":0.045},{"d":20.65,"v":0.06},{"d":20.8,"v":0.1},{"d":20.95,"v":0.165},{"d":21.1,"v":0.08},{"d":21.25,"v":0.05},{"d":21.4,"v":0.03},{"d":21.55,"v":0.05},{"d":21.7,"v":0.04},{"d":21.85,"v":0.06},{"d":22.0,"v":0.05},{"d":22.15,"v":0.07},{"d":22.3,"v":0.1},{"d":22.45,"v":0.08},{"d":22.6,"v":0.09},{"d":22.75,"v":0.06},{"d":22.9,"v":0.04},{"d":23.05,"v":0.02},{"d":23.2,"v":0.025},{"d":23.35,"v":0.015},{"d":23.5,"v":0.03},{"d":23.65,"v":0.01},{"d":23.8,"v":0.02},{"d":23.95,"v":0.005},{"d":24.1,"v":0.03},{"d":24.25,"v":0.01},{"d":24.4,"v":0.035},{"d":24.55,"v":0.06},{"d":24.7,"v":0.02},{"d":24.85,"v":0.015},{"d":25.0,"v":0.03},{"d":25.1,"v":0.085},{"d":25.25,"v":0.015},{"d":25.4,"v":0.02},{"d":25.6,"v":0.005},{"d":25.8,"v":0.01},{"d":26.0,"v":0},{"d":26.9,"v":0},{"d":27.05,"v":0.01},{"d":27.2,"v":0.005},{"d":27.35,"v":0.02},{"d":27.5,"v":0.03},{"d":27.65,"v":0.025},{"d":27.8,"v":0.06},{"d":27.95,"v":0.15},{"d":28.1,"v":0.187},{"d":28.25,"v":0.17},{"d":28.4,"v":0.18},{"d":28.55,"v":0.12},{"d":28.7,"v":0.03},{"d":28.78,"v":0},{"d":29.82,"v":0}],
"iw5":[{"d":3.23,"v":0.032},{"d":5.1,"v":0.131},{"d":6.03,"v":0.007},{"d":6.08,"v":0.015},{"d":6.16,"v":0.011},{"d":8.11,"v":0.008},{"d":8.28,"v":0},{"d":9.06,"v":0.005},{"d":9.17,"v":0.169},{"d":14.04,"v":0.052},{"d":14.09,"v":0.011},{"d":16.06,"v":0.01},{"d":16.48,"v":0.029},{"d":18.07,"v":0.026},{"d":20.19,"v":0},{"d":23.16,"v":0.0125}],
"lp1":[{"d":0.05,"v":0.02},{"d":0.2,"v":0.035},{"d":0.35,"v":0.01},{"d":0.5,"v":0.02},{"d":0.65,"v":0.03},{"d":0.8,"v":0.015},{"d":0.95,"v":0.01},{"d":1.1,"v":0.02},{"d":1.25,"v":0.01},{"d":1.4,"v":0.025},{"d":1.55,"v":0.03},{"d":1.7,"v":0.032},{"d":1.85,"v":0.028},{"d":2.0,"v":0.035},{"d":2.15,"v":0.03},{"d":2.3,"v":0.06},{"d":2.45,"v":0.094},{"d":2.55,"v":0.085},{"d":2.7,"v":0.05},{"d":2.85,"v":0.04},{"d":3.0,"v":0.03},{"d":3.15,"v":0.02},{"d":3.3,"v":0.04},{"d":3.45,"v":0.025},{"d":3.6,"v":0.045},{"d":3.75,"v":0.03},{"d":3.9,"v":0.05},{"d":4.05,"v":0.077},{"d":4.15,"v":0.03},{"d":4.3,"v":0.01},{"d":4.45,"v":0},{"d":6.3,"v":0},{"d":6.4,"v":0.004},{"d":6.5,"v":0},{"d":7.05,"v":0},{"d":7.2,"v":0.01},{"d":7.35,"v":0.02},{"d":7.45,"v":0.036},{"d":7.6,"v":0.02},{"d":7.75,"v":0.008},{"d":7.9,"v":0.012},{"d":8.05,"v":0.004},{"d":8.3,"v":0},{"d":8.5,"v":0.005},{"d":8.65,"v":0.015},{"d":8.8,"v":0.02},{"d":8.95,"v":0.015},{"d":9.1,"v":0.022},{"d":9.25,"v":0.026},{"d":9.4,"v":0.024},{"d":9.55,"v":0.02},{"d":9.7,"v":0.018},{"d":9.85,"v":0.008},{"d":10.0,"v":0},{"d":14.0,"v":0},{"d":14.1,"v":0.015},{"d":14.25,"v":0.02},{"d":14.4,"v":0.01},{"d":14.55,"v":0.05},{"d":14.75,"v":0.123},{"d":14.9,"v":0.06},{"d":15.05,"v":0.025},{"d":15.2,"v":0.03},{"d":15.35,"v":0.015},{"d":15.5,"v":0.035},{"d":15.65,"v":0.05},{"d":15.85,"v":0.129},{"d":16.0,"v":0.06},{"d":16.15,"v":0.05},{"d":16.3,"v":0.03},{"d":16.45,"v":0.06},{"d":16.6,"v":0.05},{"d":16.75,"v":0.09},{"d":16.9,"v":0.06},{"d":17.05,"v":0.08},{"d":17.2,"v":0.121},{"d":17.35,"v":0.07},{"d":17.5,"v":0.05},{"d":17.65,"v":0.04},{"d":17.8,"v":0.06},{"d":17.95,"v":0.035},{"d":18.1,"v":0.05},{"d":18.25,"v":0.04},{"d":18.4,"v":0.065},{"d":18.55,"v":0.03},{"d":18.7,"v":0.04},{"d":18.85,"v":0.025},{"d":19.0,"v":0.035},{"d":19.15,"v":0.06},{"d":19.3,"v":0.03},{"d":19.45,"v":0.045},{"d":19.6,"v":0.04},{"d":19.75,"v":0.05},{"d":19.9,"v":0.03},{"d":20.05,"v":0.04},{"d":20.2,"v":0.035},{"d":20.35,"v":0.05},{"d":20.5,"v":0.04},{"d":20.65,"v":0.06},{"d":20.85,"v":0.05},{"d":21.0,"v":0.087},{"d":21.1,"v":0.045},{"d":21.25,"v":0.045},{"d":21.4,"v":0.03},{"d":21.55,"v":0.05},{"d":21.7,"v":0.035},{"d":21.85,"v":0.045},{"d":22.0,"v":0.03},{"d":22.15,"v":0.04},{"d":22.3,"v":0.05},{"d":22.45,"v":0.035},{"d":22.6,"v":0.045},{"d":22.75,"v":0.04},{"d":22.9,"v":0.03},{"d":23.05,"v":0.045},{"d":23.2,"v":0.02},{"d":23.35,"v":0.03},{"d":23.5,"v":0.02},{"d":23.65,"v":0.015},{"d":23.8,"v":0.065},{"d":23.95,"v":0.02},{"d":24.1,"v":0.03},{"d":24.25,"v":0.025},{"d":24.4,"v":0.015},{"d":24.55,"v":0.01},{"d":24.7,"v":0.03},{"d":24.8,"v":0.07},{"d":24.95,"v":0.02},{"d":25.1,"v":0.025},{"d":25.2,"v":0.09},{"d":25.35,"v":0.02},{"d":25.5,"v":0.01},{"d":25.7,"v":0.015},{"d":25.85,"v":0.005},{"d":26.0,"v":0},{"d":26.9,"v":0},{"d":27.05,"v":0.01},{"d":27.2,"v":0.02},{"d":27.35,"v":0.03},{"d":27.5,"v":0.04},{"d":27.65,"v":0.045},{"d":27.8,"v":0.042},{"d":27.95,"v":0.048},{"d":28.1,"v":0.044},{"d":28.25,"v":0.05},{"d":28.4,"v":0.06},{"d":28.55,"v":0.07},{"d":28.7,"v":0.1},{"d":28.8,"v":0.14},{"d":28.9,"v":0.09},{"d":29.05,"v":0.05},{"d":29.2,"v":0.03},{"d":29.35,"v":0.025},{"d":29.5,"v":0.03},{"d":29.65,"v":0.02},{"d":29.82,"v":0.025}],
"lp2":[{"d":0.05,"v":0},{"d":0.2,"v":0.01},{"d":0.35,"v":0.005},{"d":0.5,"v":0.015},{"d":0.65,"v":0.01},{"d":0.8,"v":0.02},{"d":0.95,"v":0.012},{"d":1.1,"v":0.025},{"d":1.25,"v":0.015},{"d":1.4,"v":0.03},{"d":1.55,"v":0.033},{"d":1.7,"v":0.025},{"d":1.85,"v":0.03},{"d":2.0,"v":0.034},{"d":2.15,"v":0.02},{"d":2.3,"v":0.05},{"d":2.45,"v":0.088},{"d":2.6,"v":0.07},{"d":2.75,"v":0.04},{"d":2.9,"v":0.035},{"d":3.05,"v":0.02},{"d":3.2,"v":0.053},{"d":3.35,"v":0.03},{"d":3.5,"v":0.02},{"d":3.65,"v":0.035},{"d":3.8,"v":0.015},{"d":3.95,"v":0.02},{"d":4.1,"v":0.01},{"d":4.25,"v":0.003},{"d":4.4,"v":0},{"d":7.1,"v":0},{"d":7.25,"v":0.006},{"d":7.4,"v":0.015},{"d":7.55,"v":0.01},{"d":7.7,"v":0.004},{"d":7.85,"v":0.008},{"d":8.0,"v":0},{"d":8.5,"v":0},{"d":8.7,"v":0.005},{"d":8.9,"v":0.003},{"d":9.1,"v":0.008},{"d":9.2,"v":0.015},{"d":9.3,"v":0.004},{"d":9.5,"v":0},{"d":14.0,"v":0},{"d":14.15,"v":0.01},{"d":14.3,"v":0.015},{"d":14.45,"v":0.02},{"d":14.6,"v":0.05},{"d":14.75,"v":0.087},{"d":14.9,"v":0.04},{"d":15.05,"v":0.02},{"d":15.2,"v":0.025},{"d":15.35,"v":0.015},{"d":15.5,"v":0.03},{"d":15.65,"v":0.05},{"d":15.82,"v":0.09},{"d":15.95,"v":0.04},{"d":16.1,"v":0.03},{"d":16.25,"v":0.02},{"d":16.4,"v":0.04},{"d":16.55,"v":0.035},{"d":16.7,"v":0.06},{"d":16.85,"v":0.045},{"d":17.0,"v":0.05},{"d":17.2,"v":0.085},{"d":17.35,"v":0.05},{"d":17.5,"v":0.03},{"d":17.65,"v":0.035},{"d":17.8,"v":0.02},{"d":17.95,"v":0.04},{"d":18.1,"v":0.025},{"d":18.25,"v":0.035},{"d":18.4,"v":0.02},{"d":18.55,"v":0.03},{"d":18.7,"v":0.015},{"d":18.85,"v":0.03},{"d":19.0,"v":0.02},{"d":19.15,"v":0.04},{"d":19.3,"v":0.025},{"d":19.45,"v":0.02},{"d":19.6,"v":0.035},{"d":19.75,"v":0.02},{"d":19.9,"v":0.03},{"d":20.05,"v":0.015},{"d":20.2,"v":0.025},{"d":20.35,"v":0.02},{"d":20.5,"v":0.035},{"d":20.65,"v":0.03},{"d":20.8,"v":0.045},{"d":20.95,"v":0.06},{"d":21.1,"v":0.03},{"d":21.25,"v":0.04},{"d":21.4,"v":0.025},{"d":21.55,"v":0.05},{"d":21.7,"v":0.03},{"d":21.85,"v":0.04},{"d":22.0,"v":0.025},{"d":22.15,"v":0.045},{"d":22.3,"v":0.03},{"d":22.45,"v":0.05},{"d":22.6,"v":0.035},{"d":22.75,"v":0.03},{"d":22.9,"v":0.04},{"d":23.05,"v":0.02},{"d":23.2,"v":0.015},{"d":23.35,"v":0.025},{"d":23.5,"v":0.04},{"d":23.65,"v":0.02},{"d":23.8,"v":0.03},{"d":23.95,"v":0.015},{"d":24.1,"v":0.03},{"d":24.25,"v":0.045},{"d":24.4,"v":0.06},{"d":24.55,"v":0.02},{"d":24.7,"v":0.03},{"d":24.85,"v":0.015},{"d":25.0,"v":0.025},{"d":25.15,"v":0.01},{"d":25.3,"v":0.02},{"d":25.45,"v":0.01},{"d":25.6,"v":0.005},{"d":25.8,"v":0},{"d":27.0,"v":0},{"d":27.2,"v":0.005},{"d":27.4,"v":0.01},{"d":27.6,"v":0.015},{"d":27.8,"v":0.012},{"d":28.0,"v":0.02},{"d":28.2,"v":0.015},{"d":28.4,"v":0.02},{"d":28.55,"v":0.05},{"d":28.7,"v":0.09},{"d":28.8,"v":0.112},{"d":28.9,"v":0.08},{"d":29.05,"v":0.04},{"d":29.2,"v":0.025},{"d":29.35,"v":0.03},{"d":29.5,"v":0.025},{"d":29.65,"v":0.03},{"d":29.82,"v":0.035}],
"lp3":[{"d":0.05,"v":0.04},{"d":0.2,"v":0.02},{"d":0.35,"v":0.03},{"d":0.5,"v":0.01},{"d":0.65,"v":0.025},{"d":0.8,"v":0.035},{"d":0.95,"v":0.015},{"d":1.1,"v":0.03},{"d":1.25,"v":0.02},{"d":1.4,"v":0.035},{"d":1.55,"v":0.025},{"d":1.7,"v":0.03},{"d":1.85,"v":0.02},{"d":2.0,"v":0.025},{"d":2.15,"v":0.04},{"d":2.3,"v":0.045},{"d":2.45,"v":0.06},{"d":2.6,"v":0.045},{"d":2.75,"v":0.064},{"d":2.9,"v":0.04},{"d":3.05,"v":0.03},{"d":3.2,"v":0.035},{"d":3.35,"v":0.015},{"d":3.5,"v":0.025},{"d":3.65,"v":0.01},{"d":3.8,"v":0.02},{"d":3.95,"v":0.008},{"d":4.1,"v":0.012},{"d":4.25,"v":0},{"d":7.1,"v":0},{"d":7.25,"v":0.008},{"d":7.4,"v":0.012},{"d":7.55,"v":0.02},{"d":7.7,"v":0.008},{"d":7.85,"v":0.015},{"d":8.0,"v":0.003},{"d":8.2,"v":0},{"d":8.5,"v":0.004},{"d":8.7,"v":0},{"d":9.1,"v":0.005},{"d":9.3,"v":0},{"d":14.0,"v":0},{"d":14.15,"v":0.012},{"d":14.3,"v":0.02},{"d":14.45,"v":0.015},{"d":14.6,"v":0.04},{"d":14.75,"v":0.08},{"d":14.9,"v":0.03},{"d":15.05,"v":0.015},{"d":15.2,"v":0.02},{"d":15.35,"v":0.01},{"d":15.5,"v":0.03},{"d":15.65,"v":0.06},{"d":15.82,"v":0.115},{"d":15.95,"v":0.05},{"d":16.1,"v":0.03},{"d":16.25,"v":0.02},{"d":16.4,"v":0.045},{"d":16.55,"v":0.03},{"d":16.7,"v":0.05},{"d":16.85,"v":0.035},{"d":17.0,"v":0.04},{"d":17.15,"v":0.07},{"d":17.3,"v":0.04},{"d":17.45,"v":0.025},{"d":17.6,"v":0.03},{"d":17.75,"v":0.02},{"d":17.9,"v":0.035},{"d":18.05,"v":0.015},{"d":18.2,"v":0.03},{"d":18.35,"v":0.02},{"d":18.5,"v":0.04},{"d":18.65,"v":0.015},{"d":18.8,"v":0.025},{"d":18.95,"v":0.01},{"d":19.1,"v":0.03},{"d":19.25,"v":0.02},{"d":19.4,"v":0.035},{"d":19.55,"v":0.015},{"d":19.7,"v":0.025},{"d":19.85,"v":0.01},{"d":20.0,"v":0.02},{"d":20.15,"v":0.03},{"d":20.3,"v":0.015},{"d":20.45,"v":0.025},{"d":20.6,"v":0.02},{"d":20.75,"v":0.035},{"d":20.9,"v":0.05},{"d":21.05,"v":0.02},{"d":21.2,"v":0.03},{"d":21.35,"v":0.015},{"d":21.5,"v":0.035},{"d":21.65,"v":0.02},{"d":21.8,"v":0.04},{"d":21.95,"v":0.015},{"d":22.1,"v":0.03},{"d":22.25,"v":0.02},{"d":22.4,"v":0.04},{"d":22.55,"v":0.015},{"d":22.7,"v":0.03},{"d":22.85,"v":0.02},{"d":23.0,"v":0.035},{"d":23.15,"v":0.01},{"d":23.3,"v":0.025},{"d":23.45,"v":0.015},{"d":23.6,"v":0.03},{"d":23.75,"v":0.01},{"d":23.9,"v":0.025},{"d":24.05,"v":0.02},{"d":24.2,"v":0.04},{"d":24.35,"v":0.015},{"d":24.5,"v":0.03},{"d":24.65,"v":0.01},{"d":24.8,"v":0.025},{"d":24.95,"v":0.015},{"d":25.1,"v":0.02},{"d":25.25,"v":0.01},{"d":25.4,"v":0.015},{"d":25.55,"v":0.005},{"d":25.7,"v":0},{"d":27.2,"v":0},{"d":27.4,"v":0.005},{"d":27.6,"v":0.01},{"d":27.8,"v":0.008},{"d":28.0,"v":0.012},{"d":28.2,"v":0.01},{"d":28.4,"v":0.015},{"d":28.55,"v":0.04},{"d":28.7,"v":0.08},{"d":28.82,"v":0.106},{"d":28.95,"v":0.07},{"d":29.1,"v":0.04},{"d":29.25,"v":0.03},{"d":29.4,"v":0.02},{"d":29.55,"v":0.025},{"d":29.7,"v":0.03},{"d":29.82,"v":0.03}],
"lp4":[{"d":0.05,"v":0.025},{"d":0.2,"v":0.04},{"d":0.35,"v":0.015},{"d":0.5,"v":0.03},{"d":0.65,"v":0.01},{"d":0.8,"v":0.02},{"d":0.95,"v":0.012},{"d":1.1,"v":0.025},{"d":1.25,"v":0.015},{"d":1.4,"v":0.028},{"d":1.55,"v":0.02},{"d":1.7,"v":0.025},{"d":1.85,"v":0.018},{"d":2.0,"v":0.03},{"d":2.15,"v":0.035},{"d":2.3,"v":0.05},{"d":2.45,"v":0.068},{"d":2.6,"v":0.04},{"d":2.75,"v":0.035},{"d":2.9,"v":0.045},{"d":3.05,"v":0.03},{"d":3.2,"v":0.015},{"d":3.35,"v":0.02},{"d":3.5,"v":0.008},{"d":3.65,"v":0.018},{"d":3.8,"v":0.005},{"d":3.95,"v":0.012},{"d":4.1,"v":0.01},{"d":4.25,"v":0.002},{"d":4.4,"v":0},{"d":7.05,"v":0},{"d":7.2,"v":0.004},{"d":7.35,"v":0.008},{"d":7.55,"v":0.025},{"d":7.7,"v":0.005},{"d":7.85,"v":0.012},{"d":8.0,"v":0.002},{"d":8.2,"v":0},{"d":8.4,"v":0.006},{"d":8.6,"v":0.002},{"d":8.8,"v":0.008},{"d":9.0,"v":0},{"d":13.95,"v":0},{"d":14.05,"v":0.01},{"d":14.2,"v":0.02},{"d":14.35,"v":0.008},{"d":14.5,"v":0.03},{"d":14.65,"v":0.065},{"d":14.8,"v":0.04},{"d":14.95,"v":0.01},{"d":15.1,"v":0.005},{"d":15.25,"v":0.02},{"d":15.4,"v":0.01},{"d":15.55,"v":0.03},{"d":15.7,"v":0.045},{"d":15.85,"v":0.05},{"d":16.0,"v":0.02},{"d":16.15,"v":0.01},{"d":16.3,"v":0.025},{"d":16.45,"v":0.035},{"d":16.6,"v":0.02},{"d":16.75,"v":0.04},{"d":16.9,"v":0.025},{"d":17.05,"v":0.01},{"d":17.2,"v":0.03},{"d":17.35,"v":0.02},{"d":17.5,"v":0.005},{"d":17.65,"v":0.015},{"d":17.8,"v":0.025},{"d":17.95,"v":0.01},{"d":18.1,"v":0.02},{"d":18.25,"v":0.005},{"d":18.4,"v":0.025},{"d":18.55,"v":0.015},{"d":18.7,"v":0.03},{"d":18.85,"v":0.01},{"d":19.0,"v":0.02},{"d":19.15,"v":0.005},{"d":19.3,"v":0.015},{"d":19.45,"v":0.025},{"d":19.6,"v":0.01},{"d":19.75,"v":0.03},{"d":19.9,"v":0.015},{"d":20.05,"v":0.005},{"d":20.2,"v":0.02},{"d":20.35,"v":0.01},{"d":20.5,"v":0.025},{"d":20.65,"v":0.008},{"d":20.8,"v":0.018},{"d":20.95,"v":0.03},{"d":21.1,"v":0.005},{"d":21.25,"v":0.025},{"d":21.4,"v":0.012},{"d":21.55,"v":0.035},{"d":21.7,"v":0.01},{"d":21.85,"v":0.028},{"d":22.0,"v":0.005},{"d":22.15,"v":0.02},{"d":22.3,"v":0.035},{"d":22.45,"v":0.01},{"d":22.6,"v":0.025},{"d":22.75,"v":0.005},{"d":22.9,"v":0.02},{"d":23.05,"v":0.03},{"d":23.2,"v":0.01},{"d":23.3,"v":0.063},{"d":23.45,"v":0.02},{"d":23.6,"v":0.01},{"d":23.75,"v":0.025},{"d":23.9,"v":0.005},{"d":24.05,"v":0.015},{"d":24.2,"v":0.03},{"d":24.35,"v":0.01},{"d":24.5,"v":0.02},{"d":24.65,"v":0.005},{"d":24.8,"v":0.025},{"d":24.95,"v":0.012},{"d":25.1,"v":0.02},{"d":25.25,"v":0.008},{"d":25.4,"v":0.015},{"d":25.55,"v":0.003},{"d":25.7,"v":0.01},{"d":25.85,"v":0},{"d":27.3,"v":0},{"d":27.45,"v":0.005},{"d":27.6,"v":0.002},{"d":27.75,"v":0.008},{"d":27.9,"v":0.004},{"d":28.05,"v":0.01},{"d":28.2,"v":0.006},{"d":28.35,"v":0.012},{"d":28.5,"v":0.02},{"d":28.65,"v":0.06},{"d":28.8,"v":0.093},{"d":28.95,"v":0.04},{"d":29.1,"v":0.025},{"d":29.25,"v":0.018},{"d":29.4,"v":0.022},{"d":29.55,"v":0.02},{"d":29.72,"v":0.025},{"d":29.82,"v":0.107}],
"lp5":[{"d":3.27,"v":0.152},{"d":6.12,"v":0.011},{"d":6.16,"v":0.06},{"d":6.2,"v":0.043},{"d":8.14,"v":0.026},{"d":8.16,"v":0.029},{"d":8.2,"v":0},{"d":9.13,"v":0.005},{"d":9.18,"v":0.033},{"d":14.12,"v":0.166},{"d":14.13,"v":0.108},{"d":14.18,"v":0.22},{"d":16.34,"v":0.033},{"d":16.4,"v":0.084},{"d":18.25,"v":0.2},{"d":18.3,"v":0.14},{"d":20.27,"v":0.018},{"d":23.13,"v":0.021}]
},
"spacing":0,
"hconcat":[
 {"width":4,"height":1209,"data":{"values":[]},"mark":"point","view":{"fill":"#cfd6ec","stroke":null}},
 {"width":8,"height":1209,"data":{"values":[]},"mark":"point","view":{"fill":"#000000","stroke":null}},
 {"width":25,"height":1209,"data":{"values":[]},"mark":"point","view":{"fill":"#eef3fa","stroke":null}},
 {"width":5,"height":1209,"data":{"values":[]},"mark":"point","view":{"fill":"#000000","stroke":null}},
 {"width":57,"height":1209,"data":{"values":[]},"mark":"point","view":{"fill":"#dce6f2","stroke":null}},
 {"spacing":0,"bounds":"flush","vconcat":[
   {"width":1839,"height":25,"data":{"values":[]},"mark":"point","view":{"fill":"#dce6f2","stroke":null}},
   {"spacing":0,"hconcat":[
     {"width":4,"height":1184,"data":{"values":[]},"mark":"point","view":{"fill":"#000000","stroke":null}},
     {"spacing":0,"bounds":"flush","vconcat":[
       {"width":1831,"height":4,"data":{"values":[]},"mark":"point","view":{"fill":"#000000","stroke":null}},
       {"width":1,"height":90,"data":{"values":[]},"mark":"point"},
       {"spacing":0,"bounds":"flush","hconcat":[
         {"width":144,"height":1,"data":{"values":[]},"mark":"point"},
         {"columns":2,"bounds":"flush","spacing":{"row":0,"column":65},"concat":[
           {"width":806,"height":34,"data":{"values":[{"t":"SUR_NET_SW"}]},"mark":{"type":"text","fontSize":18,"color":"#1a1a1a","baseline":"middle"},"encoding":{"text":{"field":"t"}},"view":{"fill":"#d9d9d9","stroke":"#333333","strokeWidth":1.2}},
           {"width":806,"height":34,"data":{"values":[{"t":"SUR_NET_LW"}]},"mark":{"type":"text","fontSize":18,"color":"#1a1a1a","baseline":"middle"},"encoding":{"text":{"field":"t"}},"view":{"fill":"#d9d9d9","stroke":"#333333","strokeWidth":1.2}},
           {"width":806,"height":412,"view":{"stroke":"#4d4d4d","strokeWidth":1.2},
            "encoding":{"x":{"field":"d","type":"quantitative","scale":{"domain":[0.0417,29.82],"nice":false,"zero":false},"axis":null}},
            "layer":[
             {"data":{"name":"sw1"},"mark":{"type":"line","strokeWidth":1.8,"clip":true},"encoding":{"y":{"field":"v","type":"quantitative","scale":{"domain":[-14.9,345.6],"nice":false,"zero":false},"axis":{"values":[0,100,200,300],"labelExpr":"''+datum.value","title":"[W m⁻²]","titleFontSize":35,"titlePadding":32,"titleY":284}},"color":{"datum":"RH=0.90","type":"nominal","scale":{"domain":["RH=0.90","RH=0.95","RH=0.98","RH=0.99","ARISE-C-130"],"range":["#F8766D","#A3A500","#00BF7D","#00B0F6","#E76BF3"]},"title":null}}},
             {"data":{"name":"sw2"},"mark":{"type":"line","strokeWidth":1.8,"clip":true},"encoding":{"y":{"field":"v","type":"quantitative","scale":{"domain":[-14.9,345.6],"nice":false,"zero":false}},"color":{"datum":"RH=0.95","type":"nominal","scale":{"domain":["RH=0.90","RH=0.95","RH=0.98","RH=0.99","ARISE-C-130"],"range":["#F8766D","#A3A500","#00BF7D","#00B0F6","#E76BF3"]},"title":null}}},
             {"data":{"name":"sw3"},"mark":{"type":"line","strokeWidth":1.8,"clip":true},"encoding":{"y":{"field":"v","type":"quantitative","scale":{"domain":[-14.9,345.6],"nice":false,"zero":false}},"color":{"datum":"RH=0.98","type":"nominal","scale":{"domain":["RH=0.90","RH=0.95","RH=0.98","RH=0.99","ARISE-C-130"],"range":["#F8766D","#A3A500","#00BF7D","#00B0F6","#E76BF3"]},"title":null}}},
             {"data":{"name":"sw4"},"mark":{"type":"line","strokeWidth":1.8,"clip":true},"encoding":{"y":{"field":"v","type":"quantitative","scale":{"domain":[-14.9,345.6],"nice":false,"zero":false}},"color":{"datum":"RH=0.99","type":"nominal","scale":{"domain":["RH=0.90","RH=0.95","RH=0.98","RH=0.99","ARISE-C-130"],"range":["#F8766D","#A3A500","#00BF7D","#00B0F6","#E76BF3"]},"title":null}}},
             {"data":{"name":"ev"},"mark":{"type":"rule","strokeDash":[7,5],"strokeWidth":2.5,"color":"#000000"}}
            ]},
           {"width":806,"height":412,"view":{"stroke":"#4d4d4d","strokeWidth":1.2},
            "encoding":{"x":{"field":"d","type":"quantitative","scale":{"domain":[0.0417,29.82],"nice":false,"zero":false},"axis":null}},
            "layer":[
             {"data":{"name":"lw1"},"mark":{"type":"line","strokeWidth":1.8,"clip":true},"encoding":{"y":{"field":"v","type":"quantitative","scale":{"domain":[-108.3,11.7],"nice":false,"zero":false},"axis":{"values":[-100,-75,-50,-25,0],"labelExpr":"''+datum.value","title":null}},"color":{"datum":"RH=0.90","type":"nominal","scale":{"domain":["RH=0.90","RH=0.95","RH=0.98","RH=0.99","ARISE-C-130"],"range":["#F8766D","#A3A500","#00BF7D","#00B0F6","#E76BF3"]},"title":null}}},
             {"data":{"name":"lw2"},"mark":{"type":"line","strokeWidth":1.8,"clip":true},"encoding":{"y":{"field":"v","type":"quantitative","scale":{"domain":[-108.3,11.7],"nice":false,"zero":false}},"color":{"datum":"RH=0.95","type":"nominal","scale":{"domain":["RH=0.90","RH=0.95","RH=0.98","RH=0.99","ARISE-C-130"],"range":["#F8766D","#A3A500","#00BF7D","#00B0F6","#E76BF3"]},"title":null}}},
             {"data":{"name":"lw3"},"mark":{"type":"line","strokeWidth":1.8,"clip":true},"encoding":{"y":{"field":"v","type":"quantitative","scale":{"domain":[-108.3,11.7],"nice":false,"zero":false}},"color":{"datum":"RH=0.98","type":"nominal","scale":{"domain":["RH=0.90","RH=0.95","RH=0.98","RH=0.99","ARISE-C-130"],"range":["#F8766D","#A3A500","#00BF7D","#00B0F6","#E76BF3"]},"title":null}}},
             {"data":{"name":"lw4"},"mark":{"type":"line","strokeWidth":1.8,"clip":true},"encoding":{"y":{"field":"v","type":"quantitative","scale":{"domain":[-108.3,11.7],"nice":false,"zero":false}},"color":{"datum":"RH=0.99","type":"nominal","scale":{"domain":["RH=0.90","RH=0.95","RH=0.98","RH=0.99","ARISE-C-130"],"range":["#F8766D","#A3A500","#00BF7D","#00B0F6","#E76BF3"]},"title":null}}},
             {"data":{"name":"ev"},"mark":{"type":"rule","strokeDash":[7,5],"strokeWidth":2.5,"color":"#000000"}}
            ]},
           {"width":806,"height":35,"view":{"fill":"#d9d9d9","stroke":"#333333","strokeWidth":1.2},"layer":[
             {"data":{"name":"ev"},"mark":{"type":"rule","strokeDash":[7,5],"strokeWidth":2.5,"color":"#000000"},"encoding":{"x":{"field":"d","type":"quantitative","scale":{"domain":[0.0417,29.82],"nice":false,"zero":false},"axis":null}}},
             {"data":{"values":[{"t":"IWP"}]},"mark":{"type":"text","fontSize":18,"color":"#1a1a1a","baseline":"middle"},"encoding":{"text":{"field":"t"}}}
           ]},
           {"width":806,"height":35,"view":{"fill":"#d9d9d9","stroke":"#333333","strokeWidth":1.2},"layer":[
             {"data":{"name":"ev"},"mark":{"type":"rule","strokeDash":[7,5],"strokeWidth":2.5,"color":"#000000"},"encoding":{"x":{"field":"d","type":"quantitative","scale":{"domain":[0.0417,29.82],"nice":false,"zero":false},"axis":null}}},
             {"data":{"values":[{"t":"LWP"}]},"mark":{"type":"text","fontSize":18,"color":"#1a1a1a","baseline":"middle"},"encoding":{"text":{"field":"t"}}}
           ]},
           {"width":806,"height":414,"view":{"stroke":"#4d4d4d","strokeWidth":1.2},
            "encoding":{"x":{"field":"d","type":"quantitative","scale":{"domain":[0.0417,29.82],"nice":false,"zero":false},"axis":{"values":[0.0417,4.0417,8.0417,12.0417,16.0417,20.0417,24.0417,28.0417],"labelExpr":"'2014-09-' + (round(datum.value) < 9 ? '0' : '') + (round(datum.value) + 1) + ' 01:00:00'","title":null,"labelAngle":270,"labelAlign":"right","labelBaseline":"top"}}},
            "layer":[
             {"data":{"name":"iw1"},"mark":{"type":"line","strokeWidth":1.8,"clip":true},"encoding":{"y":{"field":"v","type":"quantitative","scale":{"domain":[-0.0132,0.2739],"nice":false,"zero":false},"axis":{"values":[0,0.1,0.2],"format":".1f","title":"[kg m⁻²]","titleFontSize":35,"titlePadding":39,"titleY":228}},"color":{"datum":"RH=0.90","type":"nominal","scale":{"domain":["RH=0.90","RH=0.95","RH=0.98","RH=0.99","ARISE-C-130"],"range":["#F8766D","#A3A500","#00BF7D","#00B0F6","#E76BF3"]},"title":null}}},
             {"data":{"name":"iw2"},"mark":{"type":"line","strokeWidth":1.8,"clip":true},"encoding":{"y":{"field":"v","type":"quantitative","scale":{"domain":[-0.0132,0.2739],"nice":false,"zero":false}},"color":{"datum":"RH=0.95","type":"nominal","scale":{"domain":["RH=0.90","RH=0.95","RH=0.98","RH=0.99","ARISE-C-130"],"range":["#F8766D","#A3A500","#00BF7D","#00B0F6","#E76BF3"]},"title":null}}},
             {"data":{"name":"iw3"},"mark":{"type":"line","strokeWidth":1.8,"clip":true},"encoding":{"y":{"field":"v","type":"quantitative","scale":{"domain":[-0.0132,0.2739],"nice":false,"zero":false}},"color":{"datum":"RH=0.98","type":"nominal","scale":{"domain":["RH=0.90","RH=0.95","RH=0.98","RH=0.99","ARISE-C-130"],"range":["#F8766D","#A3A500","#00BF7D","#00B0F6","#E76BF3"]},"title":null}}},
             {"data":{"name":"iw4"},"mark":{"type":"line","strokeWidth":1.8,"clip":true},"encoding":{"y":{"field":"v","type":"quantitative","scale":{"domain":[-0.0132,0.2739],"nice":false,"zero":false}},"color":{"datum":"RH=0.99","type":"nominal","scale":{"domain":["RH=0.90","RH=0.95","RH=0.98","RH=0.99","ARISE-C-130"],"range":["#F8766D","#A3A500","#00BF7D","#00B0F6","#E76BF3"]},"title":null}}},
             {"data":{"name":"iw5"},"mark":{"type":"line","strokeWidth":1.5,"clip":true},"encoding":{"y":{"field":"v","type":"quantitative","scale":{"domain":[-0.0132,0.2739],"nice":false,"zero":false}},"color":{"datum":"ARISE-C-130","type":"nominal","scale":{"domain":["RH=0.90","RH=0.95","RH=0.98","RH=0.99","ARISE-C-130"],"range":["#F8766D","#A3A500","#00BF7D","#00B0F6","#E76BF3"]},"title":null}}},
             {"data":{"name":"ev"},"mark":{"type":"rule","strokeDash":[7,5],"strokeWidth":2.5,"color":"#000000"}},
             {"data":{"name":"labI"},"mark":{"type":"text","font":"Liberation Serif","fontSize":40,"color":"#000000","baseline":"middle"},"encoding":{"y":{"field":"v","type":"quantitative","scale":{"domain":[-0.0132,0.2739],"nice":false,"zero":false}},"text":{"field":"t"}}}
            ]},
           {"width":806,"height":414,"view":{"stroke":"#4d4d4d","strokeWidth":1.2},
            "encoding":{"x":{"field":"d","type":"quantitative","scale":{"domain":[0.0417,29.82],"nice":false,"zero":false},"axis":{"values":[0.0417,4.0417,8.0417,12.0417,16.0417,20.0417,24.0417,28.0417],"labelExpr":"'2014-09-' + (round(datum.value) < 9 ? '0' : '') + (round(datum.value) + 1) + ' 01:00:00'","title":null,"labelAngle":270,"labelAlign":"right","labelBaseline":"top"}}},
            "layer":[
             {"data":{"name":"lp1"},"mark":{"type":"line","strokeWidth":1.8,"clip":true},"encoding":{"y":{"field":"v","type":"quantitative","scale":{"domain":[-0.0112,0.2324],"nice":false,"zero":false},"axis":{"values":[0,0.05,0.1,0.15,0.2],"format":".2f","title":null}},"color":{"datum":"RH=0.90","type":"nominal","scale":{"domain":["RH=0.90","RH=0.95","RH=0.98","RH=0.99","ARISE-C-130"],"range":["#F8766D","#A3A500","#00BF7D","#00B0F6","#E76BF3"]},"title":null}}},
             {"data":{"name":"lp2"},"mark":{"type":"line","strokeWidth":1.8,"clip":true},"encoding":{"y":{"field":"v","type":"quantitative","scale":{"domain":[-0.0112,0.2324],"nice":false,"zero":false}},"color":{"datum":"RH=0.95","type":"nominal","scale":{"domain":["RH=0.90","RH=0.95","RH=0.98","RH=0.99","ARISE-C-130"],"range":["#F8766D","#A3A500","#00BF7D","#00B0F6","#E76BF3"]},"title":null}}},
             {"data":{"name":"lp3"},"mark":{"type":"line","strokeWidth":1.8,"clip":true},"encoding":{"y":{"field":"v","type":"quantitative","scale":{"domain":[-0.0112,0.2324],"nice":false,"zero":false}},"color":{"datum":"RH=0.98","type":"nominal","scale":{"domain":["RH=0.90","RH=0.95","RH=0.98","RH=0.99","ARISE-C-130"],"range":["#F8766D","#A3A500","#00BF7D","#00B0F6","#E76BF3"]},"title":null}}},
             {"data":{"name":"lp4"},"mark":{"type":"line","strokeWidth":1.8,"clip":true},"encoding":{"y":{"field":"v","type":"quantitative","scale":{"domain":[-0.0112,0.2324],"nice":false,"zero":false}},"color":{"datum":"RH=0.99","type":"nominal","scale":{"domain":["RH=0.90","RH=0.95","RH=0.98","RH=0.99","ARISE-C-130"],"range":["#F8766D","#A3A500","#00BF7D","#00B0F6","#E76BF3"]},"title":null}}},
             {"data":{"name":"lp5"},"mark":{"type":"line","strokeWidth":1.5,"clip":true},"encoding":{"y":{"field":"v","type":"quantitative","scale":{"domain":[-0.0112,0.2324],"nice":false,"zero":false}},"color":{"datum":"ARISE-C-130","type":"nominal","scale":{"domain":["RH=0.90","RH=0.95","RH=0.98","RH=0.99","ARISE-C-130"],"range":["#F8766D","#A3A500","#00BF7D","#00B0F6","#E76BF3"]},"title":null}}},
             {"data":{"name":"ev"},"mark":{"type":"rule","strokeDash":[7,5],"strokeWidth":2.5,"color":"#000000"}},
             {"data":{"name":"labL"},"mark":{"type":"text","font":"Liberation Serif","fontSize":40,"color":"#000000","baseline":"middle"},"encoding":{"y":{"field":"v","type":"quantitative","scale":{"domain":[-0.0112,0.2324],"nice":false,"zero":false}},"text":{"field":"t"}}}
            ]}
         ]}
       ]}
     ]},
     {"width":4,"height":1184,"data":{"values":[]},"mark":"point","view":{"fill":"#000000","stroke":null}}
   ]}
 ]},
 {"width":59,"height":1209,"data":{"values":[]},"mark":"point","view":{"fill":"#dce6f2","stroke":null}}
]
}
